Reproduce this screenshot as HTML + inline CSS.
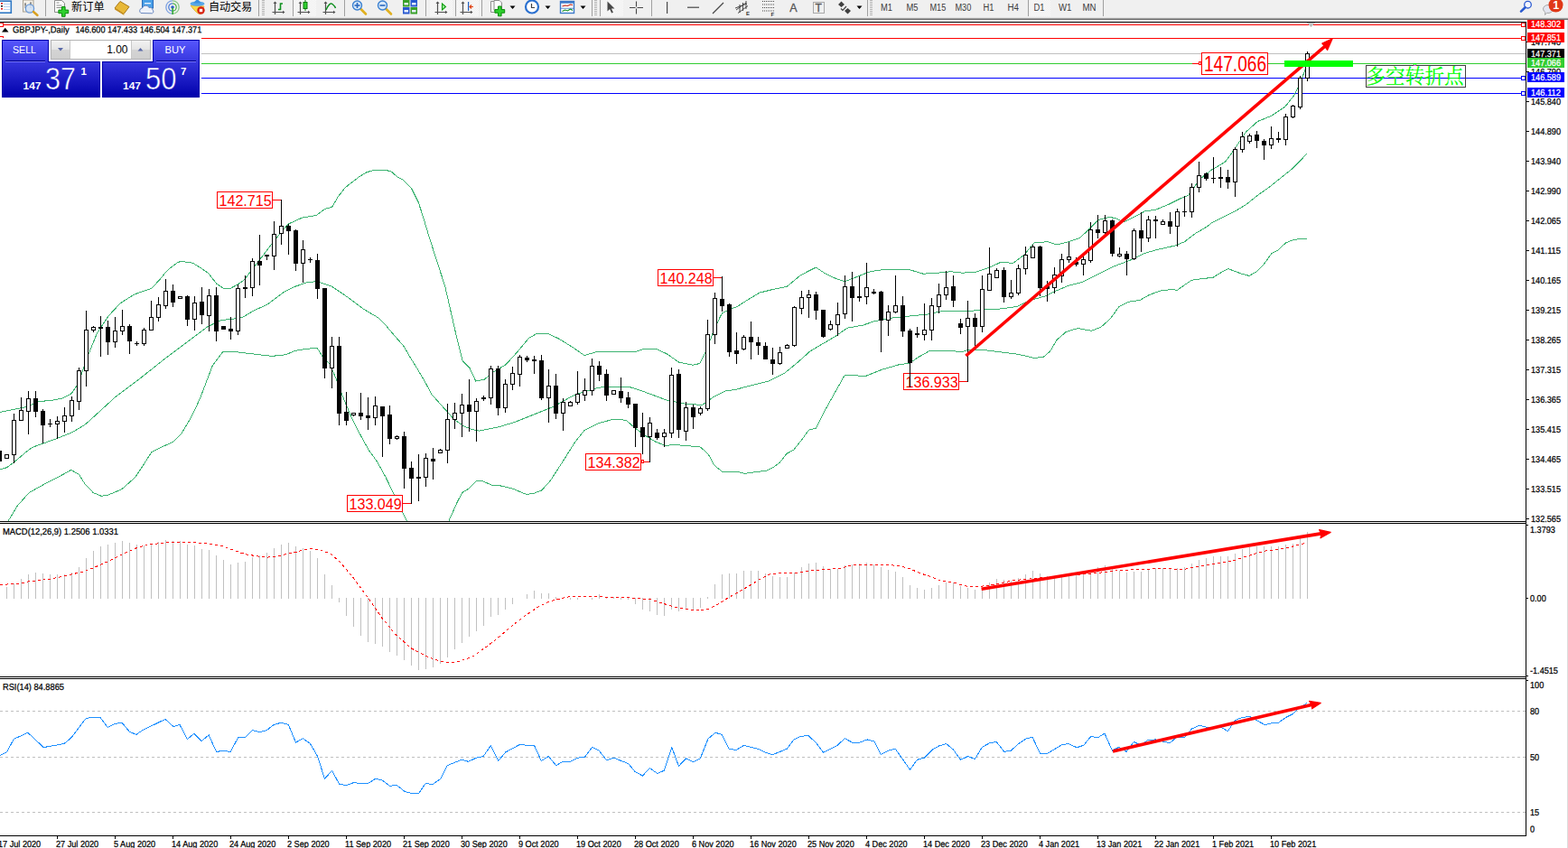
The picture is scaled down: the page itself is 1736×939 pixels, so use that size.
<!DOCTYPE html>
<html><head><meta charset="utf-8"><title>GBPJPY Daily</title><style>html,body{margin:0;padding:0;background:#fff;overflow:hidden}svg{display:block}</style></head><body>
<svg width="1736" height="939" viewBox="0 0 1736 939" font-family="Liberation Sans, sans-serif" shape-rendering="crispEdges">
<defs>
<linearGradient id="gs" gradientUnits="userSpaceOnUse" x1="0" y1="45" x2="0" y2="108"><stop offset="0" stop-color="#5656fc"/><stop offset="1" stop-color="#0000aa"/></linearGradient>
<linearGradient id="gbtn" x1="0" y1="0" x2="0" y2="1"><stop offset="0" stop-color="#f2f2f2"/><stop offset="0.5" stop-color="#e4e4e4"/><stop offset="0.5" stop-color="#d4d4d4"/><stop offset="1" stop-color="#cfcfcf"/></linearGradient>
<clipPath id="cp"><rect x="0" y="25" width="1689" height="552"/></clipPath>
<clipPath id="cm"><rect x="0" y="580" width="1689" height="169"/></clipPath>
<clipPath id="cr"><rect x="0" y="752" width="1689" height="173"/></clipPath>
<pattern id="hatch" width="2" height="2" patternUnits="userSpaceOnUse"><rect width="2" height="2" fill="#fbfbfb"/><rect width="1" height="1" fill="#eeeeee"/><rect x="1" y="1" width="1" height="1" fill="#eeeeee"/></pattern>
</defs>
<rect x="0" y="0" width="1736" height="939" fill="#fff" />
<rect x="0" y="0" width="1736" height="20" fill="#f0f0f0" />
<g shape-rendering="auto">
<rect x="-3" y="1.2" width="15.3" height="13" fill="#fff" stroke="#2f78c4" stroke-width="1.6"/>
<rect x="1" y="3" width="2" height="1.6" fill="#e02020"/><rect x="1" y="6" width="2" height="1.6" fill="#222"/><rect x="1" y="9" width="2" height="1.6" fill="#e02020"/>
<rect x="4" y="4" width="7" height="0.8" fill="#a8c8f0"/>
<rect x="4" y="7" width="7" height="0.8" fill="#a8c8f0"/>
<rect x="4" y="10" width="7" height="0.8" fill="#a8c8f0"/>
<rect x="25.5" y="0" width="11.5" height="13" fill="#f4f0e8" stroke="#a8a090" stroke-width="1"/>
<path d="M28,3 v6 M34,2 v7 M27,5 h2 M33,4 h2" stroke="#707070" stroke-width="1" fill="none"/>
<circle cx="33" cy="9.5" r="4.6" fill="#cfe0f4" fill-opacity="0.85" stroke="#6a9ad8" stroke-width="1.3"/>
<line x1="37" y1="13" x2="41.5" y2="17" stroke="#d8a020" stroke-width="2.4" stroke-linecap="round"/>
<rect x="50" y="0" width="1" height="18" fill="#a0a0a0" shape-rendering="crispEdges"/>
<path d="M60.5,0.5 h8 l3,3 v10 h-11 z" fill="#fdfdfd" stroke="#8c8c8c" stroke-width="1"/>
<path d="M62.5,3 h3 M62.5,6 h6 M62.5,8.5 h6" stroke="#8c8c8c" stroke-width="1"/>
<path d="M68.5,7.5 h3.6 v3.6 h3.6 v3.6 h-3.6 v3.6 h-3.6 v-3.6 h-3.6 v-3.6 h3.6 z" fill="#2fd02f" stroke="#0a8a0a" stroke-width="1"/>
<text x="79" y="11.5" font-size="12.2" fill="#000" textLength="36.6" lengthAdjust="spacing" font-family="'Liberation Sans', 'Noto Sans CJK SC', sans-serif">新订单</text>
<path d="M127,9 L133,1.5 L143,7.5 L137,15.5 Z" fill="#e8b838" stroke="#a87818" stroke-width="1"/>
<path d="M127,9 L137,15.5 L137.5,17 L127,10.5 Z" fill="#c89020"/>
<rect x="157.5" y="-1" width="12" height="10" fill="#4aa0e8" stroke="#2a6ab8" stroke-width="1"/>
<rect x="160" y="3" width="7" height="1.4" fill="#e8f2ff"/>
<path d="M156,14.5 a3,3 0 0 1 1.5,-5.5 a4,4 0 0 1 7.5,-0.5 a3,3 0 0 1 4,2.5 a2.2,2.2 0 0 1 -0.5,3.8 z" fill="#eef2fa" stroke="#6a88c0" stroke-width="1"/>
<path d="M191,0.8 a7.2,7.2 0 0 0 0,14.4" fill="none" stroke="#7ea2e2" stroke-width="1.3"/>
<path d="M191,0.8 a7.2,7.2 0 0 1 0,14.4" fill="none" stroke="#86c886" stroke-width="1.3"/>
<path d="M191,3.8 a4.2,4.2 0 0 0 0,8.4" fill="none" stroke="#4c7cd8" stroke-width="1.3"/>
<path d="M191,3.8 a4.2,4.2 0 0 1 0,8.4" fill="none" stroke="#52b452" stroke-width="1.3"/>
<circle cx="191" cy="8" r="1.8" fill="#2858d0"/><rect x="190.4" y="8.5" width="1.5" height="7.5" fill="#2ea82e"/>
<path d="M211,6 Q218,16 222,15.5 L226,7 Z" fill="#f8d848" stroke="#d8a828" stroke-width="0.8"/>
<ellipse cx="218.5" cy="4.2" rx="8" ry="2.6" fill="#58a8e8"/><path d="M214.5,3.5 Q218.5,-4 222.5,3.5 Z" fill="#3a90e0"/>
<circle cx="222.5" cy="11.5" r="4.2" fill="#d82010"/><rect x="220.8" y="9.8" width="3.4" height="3.4" fill="#fff"/>
<text x="231" y="11.5" font-size="12.2" fill="#000" textLength="48.2" lengthAdjust="spacing" font-family="'Liberation Sans', 'Noto Sans CJK SC', sans-serif">自动交易</text>
<rect x="286" y="0" width="1" height="18" fill="#a0a0a0" shape-rendering="crispEdges"/>
<rect x="290" y="0" width="3" height="1" fill="#b4b4b4" shape-rendering="crispEdges"/>
<rect x="290" y="2" width="3" height="1" fill="#b4b4b4" shape-rendering="crispEdges"/>
<rect x="290" y="4" width="3" height="1" fill="#b4b4b4" shape-rendering="crispEdges"/>
<rect x="290" y="6" width="3" height="1" fill="#b4b4b4" shape-rendering="crispEdges"/>
<rect x="290" y="8" width="3" height="1" fill="#b4b4b4" shape-rendering="crispEdges"/>
<rect x="290" y="10" width="3" height="1" fill="#b4b4b4" shape-rendering="crispEdges"/>
<rect x="290" y="12" width="3" height="1" fill="#b4b4b4" shape-rendering="crispEdges"/>
<rect x="290" y="14" width="3" height="1" fill="#b4b4b4" shape-rendering="crispEdges"/>
<rect x="290" y="16" width="3" height="1" fill="#b4b4b4" shape-rendering="crispEdges"/>
<path d="M304.5,2 v14 M301.5,13.5 h13" stroke="#505050" stroke-width="1.2" fill="none"/>
<path d="M302.5,4 l2,-2.5 l2,2.5 z M313,11.8 l2.5,1.7 l-2.5,1.7 z" fill="#505050"/>
<path d="M308,10.5 h2.5 v-6.5 h2.5" stroke="#109020" stroke-width="1.6" fill="none"/>
<rect x="324" y="0" width="1" height="18" fill="#a0a0a0" shape-rendering="crispEdges"/>
<rect x="325" y="0" width="25" height="18" fill="url(#hatch)" shape-rendering="crispEdges"/>
<path d="M332.5,2 v14 M329.5,13.5 h13" stroke="#505050" stroke-width="1.2" fill="none"/>
<path d="M330.5,4 l2,-2.5 l2,2.5 z M341,11.8 l2.5,1.7 l-2.5,1.7 z" fill="#505050"/>
<rect x="337.5" y="0" width="1" height="12" fill="#0a7a0a"/><rect x="336" y="2.5" width="4" height="7" fill="#30d030" stroke="#0a7a0a" stroke-width="1"/>
<path d="M360.5,2 v14 M357.5,13.5 h13" stroke="#505050" stroke-width="1.2" fill="none"/>
<path d="M358.5,4 l2,-2.5 l2,2.5 z M369,11.8 l2.5,1.7 l-2.5,1.7 z" fill="#505050"/>
<path d="M361,11 Q365,2 368,4.5 T371.5,9" stroke="#109020" stroke-width="1.4" fill="none"/>
<rect x="381" y="0" width="1" height="18" fill="#a0a0a0" shape-rendering="crispEdges"/>
<line x1="399.5" y1="10" x2="405.0" y2="15.5" stroke="#e0b020" stroke-width="2.6" stroke-linecap="round"/>
<circle cx="395.5" cy="6" r="5" fill="#d8e8f8" stroke="#3a80d0" stroke-width="1.4"/>
<path d="M392.5,6 h6" stroke="#2a68c0" stroke-width="1.6"/>
<path d="M395.5,3 v6" stroke="#2a68c0" stroke-width="1.6"/>
<line x1="427.5" y1="10" x2="433.0" y2="15.5" stroke="#e0b020" stroke-width="2.6" stroke-linecap="round"/>
<circle cx="423.5" cy="6" r="5" fill="#d8e8f8" stroke="#3a80d0" stroke-width="1.4"/>
<path d="M420.5,6 h6" stroke="#2a68c0" stroke-width="1.6"/>
<rect x="446" y="0" width="7.5" height="7.5" fill="#38a028"/><rect x="447.5" y="3" width="4.5" height="2.5" fill="#e8f0ff"/>
<rect x="454.5" y="0" width="7.5" height="7.5" fill="#2858d0"/><rect x="456.0" y="3" width="4.5" height="2.5" fill="#e8f0ff"/>
<rect x="446" y="8" width="7.5" height="7.5" fill="#2858d0"/><rect x="447.5" y="11" width="4.5" height="2.5" fill="#e8f0ff"/>
<rect x="454.5" y="8" width="7.5" height="7.5" fill="#38a028"/><rect x="456.0" y="11" width="4.5" height="2.5" fill="#e8f0ff"/>
<rect x="471" y="0" width="1" height="18" fill="#a0a0a0" shape-rendering="crispEdges"/>
<rect x="476" y="0" width="25" height="18" fill="url(#hatch)" shape-rendering="crispEdges"/>
<path d="M484.5,2 v14 M481.5,13.5 h13" stroke="#505050" stroke-width="1.2" fill="none"/>
<path d="M482.5,4 l2,-2.5 l2,2.5 z M493,11.8 l2.5,1.7 l-2.5,1.7 z" fill="#505050"/>
<path d="M489.5,4 l4,3.5 l-4,3.5 z" fill="#a0e8a0" stroke="#10a010" stroke-width="1.1"/>
<rect x="504" y="0" width="1" height="18" fill="#a0a0a0" shape-rendering="crispEdges"/>
<rect x="506" y="0" width="24" height="18" fill="url(#hatch)" shape-rendering="crispEdges"/>
<path d="M512.5,2 v14 M509.5,13.5 h13" stroke="#505050" stroke-width="1.2" fill="none"/>
<path d="M510.5,4 l2,-2.5 l2,2.5 z M521,11.8 l2.5,1.7 l-2.5,1.7 z" fill="#505050"/>
<rect x="518" y="2" width="1.2" height="10" fill="#2060c0"/><path d="M524,7.5 h-4 M522,5.5 l-2,2 l2,2" stroke="#e04010" stroke-width="1.2" fill="none"/>
<rect x="533" y="0" width="1" height="18" fill="#a0a0a0" shape-rendering="crispEdges"/>
<path d="M543.5,1.5 h6 l2.5,2.5 v9.5 h-8.5 z" fill="#fdfdfd" stroke="#8c8c8c" stroke-width="1"/><path d="M546,2.5 h6 l2.5,2.5 v8.5 h-8.5 z" fill="#fdfdfd" stroke="#8c8c8c" stroke-width="1" transform="translate(1,-2)"/>
<path d="M551.5,7 h3.6 v3.6 h3.6 v3.6 h-3.6 v3.6 h-3.6 v-3.6 h-3.6 v-3.6 h3.6 z" fill="#2fd02f" stroke="#0a8a0a" stroke-width="1"/>
<path d="M564.5,6.5 h6 l-3,3.5 z" fill="#000"/>
<circle cx="589" cy="7.5" r="7" fill="#fff" stroke="#2a70d0" stroke-width="2.2"/><path d="M588.5,4 v4.5 h3.5" stroke="#404040" stroke-width="1.2" fill="none"/>
<path d="M603.5,6.5 h6 l-3,3.5 z" fill="#000"/>
<rect x="620.5" y="1.5" width="15" height="13" fill="#fff" stroke="#3a78c8" stroke-width="1.4"/><rect x="620.5" y="1.5" width="15" height="2.2" fill="#3a78c8"/>
<path d="M622.5,7 l3,-1 l3,0.5 l3,-1.5 l2.5,0.5" stroke="#c02010" stroke-width="1.1" fill="none"/><path d="M622.5,12.5 l3,-1.5 l3,1 l3,-2 l2.5,1.5" stroke="#109020" stroke-width="1.1" fill="none"/>
<rect x="621" y="8.8" width="14" height="0.8" fill="#3a78c8"/>
<path d="M642.5,6.5 h6 l-3,3.5 z" fill="#000"/>
<rect x="655" y="0" width="1" height="18" fill="#a0a0a0" shape-rendering="crispEdges"/>
<rect x="658" y="0" width="3" height="1" fill="#b4b4b4" shape-rendering="crispEdges"/>
<rect x="658" y="2" width="3" height="1" fill="#b4b4b4" shape-rendering="crispEdges"/>
<rect x="658" y="4" width="3" height="1" fill="#b4b4b4" shape-rendering="crispEdges"/>
<rect x="658" y="6" width="3" height="1" fill="#b4b4b4" shape-rendering="crispEdges"/>
<rect x="658" y="8" width="3" height="1" fill="#b4b4b4" shape-rendering="crispEdges"/>
<rect x="658" y="10" width="3" height="1" fill="#b4b4b4" shape-rendering="crispEdges"/>
<rect x="658" y="12" width="3" height="1" fill="#b4b4b4" shape-rendering="crispEdges"/>
<rect x="658" y="14" width="3" height="1" fill="#b4b4b4" shape-rendering="crispEdges"/>
<rect x="658" y="16" width="3" height="1" fill="#b4b4b4" shape-rendering="crispEdges"/>
<rect x="664" y="0" width="1" height="18" fill="#a0a0a0" shape-rendering="crispEdges"/>
<rect x="666" y="0" width="24" height="18" fill="url(#hatch)" shape-rendering="crispEdges"/>
<path d="M672.5,1.5 v11 l2.6,-2.4 l2,4.4 l1.8,-0.8 l-2,-4.3 h3.6 z" fill="#484848"/>
<path d="M704.5,1.5 v14 M697,8.5 h15" stroke="#484848" stroke-width="1.1"/><rect x="703.5" y="7.5" width="2" height="2" fill="#f0f0f0"/>
<rect x="721" y="0" width="1" height="18" fill="#a0a0a0" shape-rendering="crispEdges"/>
<rect x="738" y="2" width="1.2" height="13" fill="#484848"/>
<rect x="761" y="7.6" width="13" height="1.2" fill="#484848"/>
<line x1="789" y1="15" x2="801" y2="3" stroke="#484848" stroke-width="1.2"/>
<path d="M815,11 l11,-8 M817,14.5 l11,-8 M819,5 v9 M822.5,3 v9 M826,1 v9 M814,9 l13,-5" stroke="#484848" stroke-width="1" fill="none"/>
<text x="826" y="17" font-size="6" font-weight="bold" fill="#303030">E</text>
<line x1="844" y1="1.5" x2="857" y2="1.5" stroke="#484848" stroke-width="1" stroke-dasharray="1 1"/>
<line x1="844" y1="5" x2="857" y2="5" stroke="#484848" stroke-width="1" stroke-dasharray="1 1"/>
<line x1="844" y1="8.5" x2="857" y2="8.5" stroke="#484848" stroke-width="1" stroke-dasharray="1 1"/>
<line x1="844" y1="12" x2="857" y2="12" stroke="#484848" stroke-width="1" stroke-dasharray="1 1"/>
<text x="853.5" y="17.5" font-size="6" font-weight="bold" fill="#303030">F</text>
<text x="874.3" y="13" font-size="12.5" fill="#555" stroke="#555" stroke-width="0.3">A</text>
<rect x="900.5" y="2.5" width="12" height="12" fill="none" stroke="#606060" stroke-width="1" stroke-dasharray="1 1"/><text x="902.5" y="13" font-size="12" fill="#555" stroke="#555" stroke-width="0.3">T</text>
<path d="M928,5 l3.5,-3.5 l3.5,3.5 l-3.5,3 z M935,12 l3.5,-3 l3.5,3 l-3.5,3.5 z" fill="#404040"/><path d="M931,9.5 l2,2 l4,-4.5" stroke="#404040" stroke-width="1.2" fill="none"/>
<path d="M948.5,6.5 h6 l-3,3.5 z" fill="#000"/>
<rect x="960" y="0" width="1" height="18" fill="#a0a0a0" shape-rendering="crispEdges"/>
<rect x="963" y="0" width="3" height="1" fill="#b4b4b4" shape-rendering="crispEdges"/>
<rect x="963" y="2" width="3" height="1" fill="#b4b4b4" shape-rendering="crispEdges"/>
<rect x="963" y="4" width="3" height="1" fill="#b4b4b4" shape-rendering="crispEdges"/>
<rect x="963" y="6" width="3" height="1" fill="#b4b4b4" shape-rendering="crispEdges"/>
<rect x="963" y="8" width="3" height="1" fill="#b4b4b4" shape-rendering="crispEdges"/>
<rect x="963" y="10" width="3" height="1" fill="#b4b4b4" shape-rendering="crispEdges"/>
<rect x="963" y="12" width="3" height="1" fill="#b4b4b4" shape-rendering="crispEdges"/>
<rect x="963" y="14" width="3" height="1" fill="#b4b4b4" shape-rendering="crispEdges"/>
<rect x="963" y="16" width="3" height="1" fill="#b4b4b4" shape-rendering="crispEdges"/>
<rect x="1140" y="0" width="23" height="18" fill="url(#hatch)" shape-rendering="crispEdges"/>
<text x="975" y="12" font-size="10" fill="#3c3c3c" textLength="13" lengthAdjust="spacingAndGlyphs">M1</text>
<text x="1003.5" y="12" font-size="10" fill="#3c3c3c" textLength="13" lengthAdjust="spacingAndGlyphs">M5</text>
<text x="1029.5" y="12" font-size="10" fill="#3c3c3c" textLength="17.8" lengthAdjust="spacingAndGlyphs">M15</text>
<text x="1057.5" y="12" font-size="10" fill="#3c3c3c" textLength="17.8" lengthAdjust="spacingAndGlyphs">M30</text>
<text x="1088.5" y="12" font-size="10" fill="#3c3c3c" textLength="12" lengthAdjust="spacingAndGlyphs">H1</text>
<text x="1115.5" y="12" font-size="10" fill="#3c3c3c" textLength="12.5" lengthAdjust="spacingAndGlyphs">H4</text>
<text x="1144.5" y="12" font-size="10" fill="#3c3c3c" textLength="12" lengthAdjust="spacingAndGlyphs">D1</text>
<text x="1172" y="12" font-size="10" fill="#3c3c3c" textLength="14.5" lengthAdjust="spacingAndGlyphs">W1</text>
<text x="1198.5" y="12" font-size="10" fill="#3c3c3c" textLength="15" lengthAdjust="spacingAndGlyphs">MN</text>
<rect x="1138" y="0" width="1" height="18" fill="#a0a0a0" shape-rendering="crispEdges"/>
<rect x="1221" y="0" width="1" height="18" fill="#a0a0a0" shape-rendering="crispEdges"/>
<circle cx="1691.5" cy="5.2" r="3.8" fill="#f4f6ff" stroke="#2a5ad0" stroke-width="1.3"/><line x1="1688.6" y1="8.2" x2="1684" y2="12.6" stroke="#2a5ad0" stroke-width="2.6" stroke-linecap="round"/>
<path d="M1708.5,10 a5.5,4.5 0 0 1 11,0 a5.5,4.5 0 0 1 -7,4.3 l-2,2.2 l0.3,-3 a5,4.5 0 0 1 -2.3,-3.5 z" fill="#e4e6f0" stroke="#a8a8a8" stroke-width="1"/>
<circle cx="1722.5" cy="5.5" r="8" fill="#e03818"/><text x="1719.3" y="10.2" font-size="12.5" font-weight="bold" fill="#fff">1</text>
</g>
<rect x="0" y="19" width="1736" height="1" fill="#e4e4e4" />
<rect x="0" y="20" width="1736" height="1" fill="#a2a2a2" />
<rect x="0" y="21" width="1736" height="1" fill="#6c6c6c" />
<rect x="0" y="24" width="1690" height="1" fill="#000" />
<rect x="1689" y="24" width="1" height="902" fill="#000" />
<rect x="0" y="577" width="1690" height="1" fill="#000" />
<rect x="0" y="579" width="1690" height="1" fill="#000" />
<rect x="0" y="749" width="1690" height="1" fill="#000" />
<rect x="0" y="751" width="1690" height="1" fill="#000" />
<rect x="0" y="925" width="1690" height="1" fill="#000" />
<rect x="1735" y="22" width="1" height="917" fill="#dcdcdc" />
<g clip-path="url(#cp)">
<rect x="0" y="27" width="1689" height="1" fill="#ff0000" />
<rect x="0" y="42" width="1689" height="1" fill="#ff0000" />
<rect x="0" y="59" width="1689" height="1" fill="#c0c0c0" />
<rect x="0" y="70" width="1689" height="1" fill="#32cd32" />
<rect x="0" y="86" width="1689" height="1" fill="#0000ff" />
<rect x="0" y="103" width="1689" height="1" fill="#0000ff" />
<rect x="-1" y="25" width="5" height="5" fill="#ff0000" />
<rect x="0" y="26" width="3" height="3" fill="#fff" />
<rect x="1684" y="25" width="5" height="5" fill="#ff0000" />
<rect x="1685" y="26" width="3" height="3" fill="#fff" />
<rect x="-1" y="40" width="5" height="5" fill="#ff0000" />
<rect x="0" y="41" width="3" height="3" fill="#fff" />
<rect x="1684" y="40" width="5" height="5" fill="#ff0000" />
<rect x="1685" y="41" width="3" height="3" fill="#fff" />
<rect x="-1" y="84" width="5" height="5" fill="#0000ff" />
<rect x="0" y="85" width="3" height="3" fill="#fff" />
<rect x="1684" y="84" width="5" height="5" fill="#0000ff" />
<rect x="1685" y="85" width="3" height="3" fill="#fff" />
<rect x="-1" y="101" width="5" height="5" fill="#0000ff" />
<rect x="0" y="102" width="3" height="3" fill="#fff" />
<rect x="1684" y="101" width="5" height="5" fill="#0000ff" />
<rect x="1685" y="102" width="3" height="3" fill="#fff" />
<rect x="1447" y="25" width="9" height="1" fill="#c0c0c0" />
<rect x="1448" y="26" width="7" height="1" fill="#c0c0c0" />
<rect x="1449" y="27" width="5" height="1" fill="#c0c0c0" />
<rect x="1450" y="28" width="3" height="1" fill="#c0c0c0" />
<rect x="1451" y="29" width="1" height="1" fill="#c0c0c0" />
<polyline points="0.0,456.4 26.6,451.1 35.1,447.9 42.6,444.7 58.6,443.1 69.2,441.0 79.2,435.7 87.0,424.2 95.9,397.4 107.4,369.2 120.0,350.0 133.0,336.0 145.7,327.8 150.0,325.5 159.0,322.4 167.3,319.6 177.0,309.6 181.8,303.4 188.1,297.1 195.7,291.3 199.8,289.4 203.6,289.4 205.4,290.4 209.5,290.4 213.7,291.4 222.0,296.5 231.0,302.7 235.1,308.2 240.0,314.4 247.6,319.3 255.2,319.3 263.5,314.8 270.0,310.3 275.6,303.2 288.3,286.6 301.0,270.0 311.3,257.2 319.0,248.2 334.4,241.1 350.0,238.6 359.8,231.2 367.6,229.3 374.5,217.5 382.3,207.7 390.2,201.4 398.0,195.5 405.9,190.8 413.7,188.4 427.4,188.4 433.3,190.1 440.1,196.0 446.5,199.4 455.3,208.2 463.2,223.9 468.6,240.5 474.9,261.6 480.0,277.6 492.8,317.3 505.6,373.5 510.0,391.4 512.4,400.0 520.1,407.7 526.8,422.1 536.4,420.1 544.1,413.4 551.8,408.6 560.0,403.8 572.8,389.7 585.6,374.4 593.2,370.0 606.0,369.2 618.8,375.1 634.1,384.6 646.9,393.5 662.2,389.2 682.7,389.7 703.1,389.7 713.4,386.1 726.2,386.1 738.9,392.2 751.7,401.2 767.1,404.3 774.7,402.5 782.4,387.1 790.0,366.7 797.7,350.1 799.8,346.8 804.6,344.4 810.4,341.5 815.2,340.1 822.8,335.2 840.7,324.2 856.0,320.4 871.3,317.3 886.7,304.5 903.3,296.1 912.2,302.0 925.0,308.3 935.3,311.7 950.6,305.8 963.4,300.7 976.2,298.9 988.9,298.1 1006.8,298.6 1022.2,303.2 1040.1,302.0 1052.8,300.7 1065.3,302.2 1080.7,301.0 1096.0,295.9 1108.8,290.0 1121.6,291.5 1134.4,281.8 1144.6,269.0 1159.9,267.7 1170.1,271.1 1182.9,267.7 1195.7,263.4 1205.9,253.7 1216.2,243.5 1228.9,240.4 1236.6,242.2 1244.3,246.0 1254.5,240.9 1267.3,234.0 1280.1,232.0 1292.8,226.8 1305.6,220.4 1315.6,216.4 1328.3,198.5 1341.1,188.3 1356.5,179.3 1366.7,165.3 1379.5,146.1 1392.2,134.6 1407.6,128.2 1422.9,118.0 1433.1,105.2 1440.8,88.6 1446.4,73.2" fill="none" stroke="#3cb371" stroke-width="1"/>
<polyline points="0.0,520.1 7.5,517.7 14.9,512.3 31.9,498.0 37.3,494.8 47.9,491.0 63.9,485.2 79.9,478.8 94.8,469.7 112.5,453.6 127.8,439.5 153.4,420.4 179.0,400.0 204.5,380.7 230.0,361.6 245.4,354.4 255.0,353.5 267.9,351.8 280.7,344.1 296.0,337.2 313.9,323.6 326.7,317.3 339.5,312.9 351.0,311.6 367.6,317.3 385.5,329.5 403.4,342.8 418.7,351.8 426.9,360.0 437.1,372.1 446.7,383.0 455.0,397.1 461.4,407.3 470.4,422.6 478.0,436.7 487.0,446.9 499.7,461.0 503.8,465.2 513.4,471.9 523.0,475.7 530.7,477.1 542.2,474.8 551.8,472.9 570.9,467.1 590.1,459.4 611.1,451.0 636.7,437.0 662.2,429.3 675.0,428.0 695.5,428.0 713.4,433.9 738.9,443.4 759.4,447.2 777.3,448.5 790.0,439.5 802.8,433.1 815.0,431.2 830.4,427.2 850.9,422.1 868.8,413.1 884.1,400.4 896.9,388.9 912.2,379.9 925.0,372.3 937.8,363.3 955.7,360.0 968.5,355.6 988.9,351.8 1009.4,349.8 1027.3,348.0 1045.2,344.1 1067.9,344.9 1088.3,343.1 1108.8,341.9 1126.7,339.3 1139.5,332.9 1157.4,327.8 1167.6,322.7 1182.9,316.3 1198.3,312.5 1216.2,303.5 1234.1,294.6 1254.5,286.9 1267.3,280.5 1280.1,276.7 1290.0,274.6 1302.7,271.5 1311.6,267.6 1323.3,258.6 1337.0,250.5 1341.1,247.1 1356.5,239.4 1366.7,234.3 1379.5,226.6 1392.2,216.4 1405.0,207.4 1417.8,197.2 1430.6,187.0 1440.8,176.8 1446.4,170.4" fill="none" stroke="#3cb371" stroke-width="1"/>
<polyline points="8.0,579.0 9.0,577.0 19.5,559.8 32.2,545.6 49.4,535.9 64.4,528.4 78.6,520.4 87.6,525.4 94.4,536.6 103.3,545.6 112.3,549.3 119.8,548.1 134.8,541.8 149.8,528.4 158.8,514.9 167.7,500.7 179.7,494.7 191.7,489.4 200.7,480.4 209.7,465.5 217.2,450.5 221.7,440.7 235.2,405.0 246.7,389.7 255.0,389.0 275.6,391.4 301.0,394.4 316.5,392.7 326.7,388.3 339.5,386.3 351.0,385.2 357.4,395.2 365.0,402.9 372.7,420.8 379.2,438.4 388.8,461.4 398.4,480.5 407.9,497.8 417.5,511.2 427.1,528.5 436.7,548.6 450.1,576.4 453.0,583.0 495.0,583.0 497.1,576.4 505.7,557.2 511.5,545.7 519.2,540.9 527.8,532.3 534.5,532.7 544.1,537.1 555.6,538.1 567.1,540.9 582.4,547.3 590.1,546.7 599.7,542.9 609.3,532.3 623.9,509.8 636.7,489.4 646.9,476.6 662.2,468.9 677.6,464.6 692.9,465.1 703.1,474.0 713.4,481.7 726.2,489.4 736.4,493.2 749.2,492.7 764.5,494.0 774.7,494.5 780.0,499.1 784.4,503.3 790.8,515.1 799.6,522.4 817.2,522.4 824.1,524.4 834.9,522.9 848.6,521.1 855.4,518.0 863.3,512.1 871.1,502.3 879.0,497.9 887.8,486.7 895.6,476.1 903.5,474.1 912.2,456.6 925.0,433.6 935.3,415.2 958.3,416.5 976.2,409.3 996.6,403.4 1006.8,402.4 1017.1,395.3 1029.8,388.1 1055.4,388.4 1063.1,390.1 1070.4,387.9 1088.3,387.4 1106.2,389.7 1126.7,392.2 1144.6,396.3 1154.8,395.6 1162.5,389.2 1170.1,376.4 1180.4,367.4 1193.1,363.6 1208.5,366.2 1218.7,362.3 1228.9,353.4 1239.2,339.3 1249.4,334.2 1262.2,332.4 1272.4,326.5 1285.2,321.9 1298.8,320.3 1303.2,321.5 1310.6,316.1 1319.4,310.3 1329.2,308.8 1342.9,307.3 1351.7,301.9 1359.6,297.5 1367.4,300.5 1375.2,303.4 1383.1,305.4 1390.9,301.0 1399.7,292.1 1407.6,280.9 1414.4,277.4 1423.3,269.1 1430.1,266.2 1438.0,264.5 1446.8,264.4" fill="none" stroke="#3cb371" stroke-width="1"/>
<rect x="-1" y="499" width="1" height="12" fill="#000" />
<rect x="-3" y="499" width="5" height="12" fill="#000" />
<rect x="7" y="503" width="1" height="5" fill="#000" />
<rect x="5" y="503" width="5" height="5" fill="#000" />
<rect x="6" y="504" width="3" height="3" fill="#fff" />
<rect x="15" y="458" width="1" height="55" fill="#000" />
<rect x="13" y="465" width="5" height="39" fill="#000" />
<rect x="14" y="466" width="3" height="37" fill="#fff" />
<rect x="23" y="440" width="1" height="26" fill="#000" />
<rect x="21" y="454" width="5" height="12" fill="#000" />
<rect x="22" y="455" width="3" height="10" fill="#fff" />
<rect x="31" y="433" width="1" height="48" fill="#000" />
<rect x="29" y="441" width="5" height="15" fill="#000" />
<rect x="30" y="442" width="3" height="13" fill="#fff" />
<rect x="39" y="433" width="1" height="29" fill="#000" />
<rect x="37" y="441" width="5" height="15" fill="#000" />
<rect x="47" y="453" width="1" height="38" fill="#000" />
<rect x="45" y="455" width="5" height="16" fill="#000" />
<rect x="55" y="464" width="1" height="9" fill="#000" />
<rect x="53" y="469" width="5" height="1" fill="#000" />
<rect x="63" y="461" width="1" height="25" fill="#000" />
<rect x="61" y="466" width="5" height="4" fill="#000" />
<rect x="62" y="467" width="3" height="2" fill="#fff" />
<rect x="71" y="451" width="1" height="28" fill="#000" />
<rect x="69" y="460" width="5" height="7" fill="#000" />
<rect x="70" y="461" width="3" height="5" fill="#fff" />
<rect x="79" y="439" width="1" height="28" fill="#000" />
<rect x="77" y="443" width="5" height="18" fill="#000" />
<rect x="78" y="444" width="3" height="16" fill="#fff" />
<rect x="87" y="407" width="1" height="47" fill="#000" />
<rect x="85" y="410" width="5" height="35" fill="#000" />
<rect x="86" y="411" width="3" height="33" fill="#fff" />
<rect x="95" y="344" width="1" height="84" fill="#000" />
<rect x="93" y="365" width="5" height="46" fill="#000" />
<rect x="94" y="366" width="3" height="44" fill="#fff" />
<rect x="103" y="361" width="1" height="7" fill="#000" />
<rect x="101" y="362" width="5" height="4" fill="#000" />
<rect x="102" y="363" width="3" height="2" fill="#fff" />
<rect x="111" y="350" width="1" height="45" fill="#000" />
<rect x="109" y="362" width="5" height="2" fill="#000" />
<rect x="119" y="355" width="1" height="38" fill="#000" />
<rect x="117" y="362" width="5" height="17" fill="#000" />
<rect x="127" y="351" width="1" height="34" fill="#000" />
<rect x="125" y="366" width="5" height="13" fill="#000" />
<rect x="126" y="367" width="3" height="11" fill="#fff" />
<rect x="135" y="343" width="1" height="28" fill="#000" />
<rect x="133" y="361" width="5" height="6" fill="#000" />
<rect x="134" y="362" width="3" height="4" fill="#fff" />
<rect x="143" y="359" width="1" height="33" fill="#000" />
<rect x="141" y="361" width="5" height="17" fill="#000" />
<rect x="151" y="378" width="1" height="5" fill="#000" />
<rect x="149" y="380" width="5" height="1" fill="#000" />
<rect x="159" y="363" width="1" height="20" fill="#000" />
<rect x="157" y="365" width="5" height="16" fill="#000" />
<rect x="158" y="366" width="3" height="14" fill="#fff" />
<rect x="167" y="333" width="1" height="33" fill="#000" />
<rect x="165" y="351" width="5" height="15" fill="#000" />
<rect x="166" y="352" width="3" height="13" fill="#fff" />
<rect x="175" y="329" width="1" height="27" fill="#000" />
<rect x="173" y="337" width="5" height="15" fill="#000" />
<rect x="174" y="338" width="3" height="13" fill="#fff" />
<rect x="183" y="309" width="1" height="33" fill="#000" />
<rect x="181" y="322" width="5" height="17" fill="#000" />
<rect x="182" y="323" width="3" height="15" fill="#fff" />
<rect x="191" y="315" width="1" height="25" fill="#000" />
<rect x="189" y="322" width="5" height="13" fill="#000" />
<rect x="199" y="328" width="1" height="3" fill="#000" />
<rect x="197" y="328" width="5" height="3" fill="#000" />
<rect x="198" y="329" width="3" height="1" fill="#fff" />
<rect x="207" y="327" width="1" height="34" fill="#000" />
<rect x="205" y="328" width="5" height="26" fill="#000" />
<rect x="215" y="328" width="1" height="38" fill="#000" />
<rect x="213" y="335" width="5" height="19" fill="#000" />
<rect x="214" y="336" width="3" height="17" fill="#fff" />
<rect x="223" y="318" width="1" height="41" fill="#000" />
<rect x="221" y="334" width="5" height="15" fill="#000" />
<rect x="231" y="320" width="1" height="47" fill="#000" />
<rect x="229" y="327" width="5" height="23" fill="#000" />
<rect x="230" y="328" width="3" height="21" fill="#fff" />
<rect x="239" y="318" width="1" height="60" fill="#000" />
<rect x="237" y="327" width="5" height="40" fill="#000" />
<rect x="247" y="361" width="1" height="4" fill="#000" />
<rect x="245" y="361" width="5" height="4" fill="#000" />
<rect x="255" y="351" width="1" height="25" fill="#000" />
<rect x="253" y="364" width="5" height="3" fill="#000" />
<rect x="263" y="315" width="1" height="56" fill="#000" />
<rect x="261" y="319" width="5" height="48" fill="#000" />
<rect x="262" y="320" width="3" height="46" fill="#fff" />
<rect x="271" y="305" width="1" height="25" fill="#000" />
<rect x="269" y="318" width="5" height="2" fill="#000" />
<rect x="279" y="286" width="1" height="42" fill="#000" />
<rect x="277" y="289" width="5" height="30" fill="#000" />
<rect x="278" y="290" width="3" height="28" fill="#fff" />
<rect x="287" y="260" width="1" height="56" fill="#000" />
<rect x="285" y="289" width="5" height="5" fill="#000" />
<rect x="295" y="282" width="1" height="6" fill="#000" />
<rect x="293" y="282" width="5" height="2" fill="#000" />
<rect x="303" y="245" width="1" height="54" fill="#000" />
<rect x="301" y="259" width="5" height="25" fill="#000" />
<rect x="302" y="260" width="3" height="23" fill="#fff" />
<rect x="311" y="221" width="1" height="50" fill="#000" />
<rect x="309" y="250" width="5" height="9" fill="#000" />
<rect x="310" y="251" width="3" height="7" fill="#fff" />
<rect x="319" y="248" width="1" height="34" fill="#000" />
<rect x="317" y="250" width="5" height="6" fill="#000" />
<rect x="327" y="254" width="1" height="46" fill="#000" />
<rect x="325" y="255" width="5" height="37" fill="#000" />
<rect x="335" y="266" width="1" height="47" fill="#000" />
<rect x="333" y="276" width="5" height="16" fill="#000" />
<rect x="334" y="277" width="3" height="14" fill="#fff" />
<rect x="343" y="285" width="1" height="6" fill="#000" />
<rect x="341" y="287" width="5" height="1" fill="#000" />
<rect x="351" y="281" width="1" height="50" fill="#000" />
<rect x="349" y="288" width="5" height="32" fill="#000" />
<rect x="359" y="319" width="1" height="100" fill="#000" />
<rect x="357" y="319" width="5" height="89" fill="#000" />
<rect x="367" y="373" width="1" height="57" fill="#000" />
<rect x="365" y="383" width="5" height="25" fill="#000" />
<rect x="366" y="384" width="3" height="23" fill="#fff" />
<rect x="375" y="373" width="1" height="98" fill="#000" />
<rect x="373" y="383" width="5" height="75" fill="#000" />
<rect x="383" y="434" width="1" height="37" fill="#000" />
<rect x="381" y="456" width="5" height="10" fill="#000" />
<rect x="391" y="457" width="1" height="4" fill="#000" />
<rect x="389" y="457" width="5" height="3" fill="#000" />
<rect x="390" y="458" width="3" height="1" fill="#fff" />
<rect x="399" y="435" width="1" height="30" fill="#000" />
<rect x="397" y="457" width="5" height="4" fill="#000" />
<rect x="407" y="440" width="1" height="36" fill="#000" />
<rect x="405" y="460" width="5" height="3" fill="#000" />
<rect x="415" y="439" width="1" height="32" fill="#000" />
<rect x="413" y="449" width="5" height="14" fill="#000" />
<rect x="414" y="450" width="3" height="12" fill="#fff" />
<rect x="423" y="450" width="1" height="56" fill="#000" />
<rect x="421" y="450" width="5" height="11" fill="#000" />
<rect x="431" y="449" width="1" height="43" fill="#000" />
<rect x="429" y="459" width="5" height="27" fill="#000" />
<rect x="439" y="482" width="1" height="5" fill="#000" />
<rect x="437" y="483" width="5" height="3" fill="#000" />
<rect x="438" y="484" width="3" height="1" fill="#fff" />
<rect x="447" y="478" width="1" height="63" fill="#000" />
<rect x="445" y="483" width="5" height="36" fill="#000" />
<rect x="455" y="511" width="1" height="47" fill="#000" />
<rect x="453" y="518" width="5" height="12" fill="#000" />
<rect x="463" y="503" width="1" height="52" fill="#000" />
<rect x="461" y="528" width="5" height="2" fill="#000" />
<rect x="471" y="502" width="1" height="37" fill="#000" />
<rect x="469" y="507" width="5" height="22" fill="#000" />
<rect x="470" y="508" width="3" height="20" fill="#fff" />
<rect x="479" y="496" width="1" height="35" fill="#000" />
<rect x="477" y="508" width="5" height="3" fill="#000" />
<rect x="487" y="497" width="1" height="5" fill="#000" />
<rect x="485" y="498" width="5" height="4" fill="#000" />
<rect x="486" y="499" width="3" height="2" fill="#fff" />
<rect x="495" y="447" width="1" height="66" fill="#000" />
<rect x="493" y="464" width="5" height="35" fill="#000" />
<rect x="494" y="465" width="3" height="33" fill="#fff" />
<rect x="503" y="446" width="1" height="29" fill="#000" />
<rect x="501" y="457" width="5" height="8" fill="#000" />
<rect x="502" y="458" width="3" height="6" fill="#fff" />
<rect x="511" y="436" width="1" height="48" fill="#000" />
<rect x="509" y="448" width="5" height="10" fill="#000" />
<rect x="510" y="449" width="3" height="8" fill="#fff" />
<rect x="519" y="420" width="1" height="58" fill="#000" />
<rect x="517" y="448" width="5" height="8" fill="#000" />
<rect x="527" y="441" width="1" height="48" fill="#000" />
<rect x="525" y="444" width="5" height="12" fill="#000" />
<rect x="526" y="445" width="3" height="10" fill="#fff" />
<rect x="535" y="438" width="1" height="6" fill="#000" />
<rect x="533" y="440" width="5" height="2" fill="#000" />
<rect x="543" y="405" width="1" height="43" fill="#000" />
<rect x="541" y="408" width="5" height="33" fill="#000" />
<rect x="542" y="409" width="3" height="31" fill="#fff" />
<rect x="551" y="405" width="1" height="55" fill="#000" />
<rect x="549" y="408" width="5" height="44" fill="#000" />
<rect x="559" y="420" width="1" height="37" fill="#000" />
<rect x="557" y="425" width="5" height="27" fill="#000" />
<rect x="558" y="426" width="3" height="25" fill="#fff" />
<rect x="567" y="406" width="1" height="26" fill="#000" />
<rect x="565" y="413" width="5" height="13" fill="#000" />
<rect x="566" y="414" width="3" height="11" fill="#fff" />
<rect x="575" y="393" width="1" height="35" fill="#000" />
<rect x="573" y="395" width="5" height="20" fill="#000" />
<rect x="574" y="396" width="3" height="18" fill="#fff" />
<rect x="583" y="394" width="1" height="7" fill="#000" />
<rect x="581" y="396" width="5" height="3" fill="#000" />
<rect x="591" y="394" width="1" height="20" fill="#000" />
<rect x="589" y="398" width="5" height="2" fill="#000" />
<rect x="599" y="393" width="1" height="50" fill="#000" />
<rect x="597" y="399" width="5" height="42" fill="#000" />
<rect x="607" y="409" width="1" height="59" fill="#000" />
<rect x="605" y="427" width="5" height="14" fill="#000" />
<rect x="606" y="428" width="3" height="12" fill="#fff" />
<rect x="615" y="414" width="1" height="50" fill="#000" />
<rect x="613" y="427" width="5" height="31" fill="#000" />
<rect x="623" y="441" width="1" height="36" fill="#000" />
<rect x="621" y="445" width="5" height="13" fill="#000" />
<rect x="622" y="446" width="3" height="11" fill="#fff" />
<rect x="631" y="444" width="1" height="6" fill="#000" />
<rect x="629" y="445" width="5" height="5" fill="#000" />
<rect x="630" y="446" width="3" height="3" fill="#fff" />
<rect x="639" y="411" width="1" height="37" fill="#000" />
<rect x="637" y="436" width="5" height="10" fill="#000" />
<rect x="638" y="437" width="3" height="8" fill="#fff" />
<rect x="647" y="419" width="1" height="25" fill="#000" />
<rect x="645" y="432" width="5" height="6" fill="#000" />
<rect x="646" y="433" width="3" height="4" fill="#fff" />
<rect x="655" y="397" width="1" height="41" fill="#000" />
<rect x="653" y="405" width="5" height="28" fill="#000" />
<rect x="654" y="406" width="3" height="26" fill="#fff" />
<rect x="663" y="400" width="1" height="22" fill="#000" />
<rect x="661" y="405" width="5" height="10" fill="#000" />
<rect x="671" y="409" width="1" height="35" fill="#000" />
<rect x="669" y="414" width="5" height="24" fill="#000" />
<rect x="679" y="432" width="1" height="5" fill="#000" />
<rect x="677" y="432" width="5" height="5" fill="#000" />
<rect x="678" y="433" width="3" height="3" fill="#fff" />
<rect x="687" y="418" width="1" height="28" fill="#000" />
<rect x="685" y="433" width="5" height="8" fill="#000" />
<rect x="695" y="434" width="1" height="18" fill="#000" />
<rect x="693" y="440" width="5" height="8" fill="#000" />
<rect x="703" y="447" width="1" height="48" fill="#000" />
<rect x="701" y="447" width="5" height="27" fill="#000" />
<rect x="711" y="457" width="1" height="46" fill="#000" />
<rect x="709" y="473" width="5" height="11" fill="#000" />
<rect x="719" y="462" width="1" height="50" fill="#000" />
<rect x="717" y="468" width="5" height="16" fill="#000" />
<rect x="718" y="469" width="3" height="14" fill="#fff" />
<rect x="727" y="475" width="1" height="12" fill="#000" />
<rect x="725" y="479" width="5" height="6" fill="#000" />
<rect x="735" y="475" width="1" height="20" fill="#000" />
<rect x="733" y="479" width="5" height="5" fill="#000" />
<rect x="734" y="480" width="3" height="3" fill="#fff" />
<rect x="743" y="407" width="1" height="78" fill="#000" />
<rect x="741" y="415" width="5" height="65" fill="#000" />
<rect x="742" y="416" width="3" height="63" fill="#fff" />
<rect x="751" y="409" width="1" height="76" fill="#000" />
<rect x="749" y="414" width="5" height="62" fill="#000" />
<rect x="759" y="445" width="1" height="43" fill="#000" />
<rect x="757" y="451" width="5" height="27" fill="#000" />
<rect x="758" y="452" width="3" height="25" fill="#fff" />
<rect x="767" y="448" width="1" height="27" fill="#000" />
<rect x="765" y="451" width="5" height="11" fill="#000" />
<rect x="775" y="450" width="1" height="10" fill="#000" />
<rect x="773" y="452" width="5" height="6" fill="#000" />
<rect x="774" y="453" width="3" height="4" fill="#fff" />
<rect x="783" y="354" width="1" height="101" fill="#000" />
<rect x="781" y="370" width="5" height="83" fill="#000" />
<rect x="782" y="371" width="3" height="81" fill="#fff" />
<rect x="791" y="324" width="1" height="57" fill="#000" />
<rect x="789" y="330" width="5" height="41" fill="#000" />
<rect x="790" y="331" width="3" height="39" fill="#fff" />
<rect x="799" y="306" width="1" height="39" fill="#000" />
<rect x="797" y="331" width="5" height="8" fill="#000" />
<rect x="807" y="336" width="1" height="59" fill="#000" />
<rect x="805" y="337" width="5" height="53" fill="#000" />
<rect x="815" y="368" width="1" height="35" fill="#000" />
<rect x="813" y="388" width="5" height="4" fill="#000" />
<rect x="823" y="371" width="1" height="17" fill="#000" />
<rect x="821" y="373" width="5" height="14" fill="#000" />
<rect x="822" y="374" width="3" height="12" fill="#fff" />
<rect x="831" y="356" width="1" height="42" fill="#000" />
<rect x="829" y="373" width="5" height="6" fill="#000" />
<rect x="839" y="373" width="1" height="20" fill="#000" />
<rect x="837" y="379" width="5" height="4" fill="#000" />
<rect x="847" y="379" width="1" height="19" fill="#000" />
<rect x="845" y="383" width="5" height="15" fill="#000" />
<rect x="855" y="385" width="1" height="30" fill="#000" />
<rect x="853" y="398" width="5" height="5" fill="#000" />
<rect x="863" y="384" width="1" height="20" fill="#000" />
<rect x="861" y="390" width="5" height="13" fill="#000" />
<rect x="862" y="391" width="3" height="11" fill="#fff" />
<rect x="871" y="381" width="1" height="5" fill="#000" />
<rect x="869" y="382" width="5" height="4" fill="#000" />
<rect x="870" y="383" width="3" height="2" fill="#fff" />
<rect x="879" y="339" width="1" height="45" fill="#000" />
<rect x="877" y="340" width="5" height="43" fill="#000" />
<rect x="878" y="341" width="3" height="41" fill="#fff" />
<rect x="887" y="322" width="1" height="26" fill="#000" />
<rect x="885" y="329" width="5" height="13" fill="#000" />
<rect x="886" y="330" width="3" height="11" fill="#fff" />
<rect x="895" y="321" width="1" height="31" fill="#000" />
<rect x="893" y="326" width="5" height="4" fill="#000" />
<rect x="894" y="327" width="3" height="2" fill="#fff" />
<rect x="903" y="323" width="1" height="31" fill="#000" />
<rect x="901" y="326" width="5" height="18" fill="#000" />
<rect x="911" y="343" width="1" height="31" fill="#000" />
<rect x="909" y="343" width="5" height="30" fill="#000" />
<rect x="919" y="355" width="1" height="11" fill="#000" />
<rect x="917" y="359" width="5" height="6" fill="#000" />
<rect x="918" y="360" width="3" height="4" fill="#fff" />
<rect x="927" y="335" width="1" height="37" fill="#000" />
<rect x="925" y="348" width="5" height="12" fill="#000" />
<rect x="926" y="349" width="3" height="10" fill="#fff" />
<rect x="935" y="305" width="1" height="48" fill="#000" />
<rect x="933" y="317" width="5" height="31" fill="#000" />
<rect x="934" y="318" width="3" height="29" fill="#fff" />
<rect x="943" y="301" width="1" height="55" fill="#000" />
<rect x="941" y="317" width="5" height="13" fill="#000" />
<rect x="951" y="306" width="1" height="28" fill="#000" />
<rect x="949" y="328" width="5" height="2" fill="#000" />
<rect x="959" y="291" width="1" height="46" fill="#000" />
<rect x="957" y="318" width="5" height="11" fill="#000" />
<rect x="958" y="319" width="3" height="9" fill="#fff" />
<rect x="967" y="320" width="1" height="6" fill="#000" />
<rect x="965" y="323" width="5" height="2" fill="#000" />
<rect x="975" y="322" width="1" height="68" fill="#000" />
<rect x="973" y="323" width="5" height="32" fill="#000" />
<rect x="983" y="338" width="1" height="34" fill="#000" />
<rect x="981" y="345" width="5" height="10" fill="#000" />
<rect x="982" y="346" width="3" height="8" fill="#fff" />
<rect x="991" y="305" width="1" height="42" fill="#000" />
<rect x="989" y="338" width="5" height="8" fill="#000" />
<rect x="990" y="339" width="3" height="6" fill="#fff" />
<rect x="999" y="328" width="1" height="45" fill="#000" />
<rect x="997" y="338" width="5" height="29" fill="#000" />
<rect x="1007" y="364" width="1" height="58" fill="#000" />
<rect x="1005" y="366" width="5" height="36" fill="#000" />
<rect x="1015" y="362" width="1" height="12" fill="#000" />
<rect x="1013" y="369" width="5" height="2" fill="#000" />
<rect x="1023" y="336" width="1" height="41" fill="#000" />
<rect x="1021" y="365" width="5" height="6" fill="#000" />
<rect x="1022" y="366" width="3" height="4" fill="#fff" />
<rect x="1031" y="330" width="1" height="47" fill="#000" />
<rect x="1029" y="338" width="5" height="28" fill="#000" />
<rect x="1030" y="339" width="3" height="26" fill="#fff" />
<rect x="1039" y="314" width="1" height="33" fill="#000" />
<rect x="1037" y="326" width="5" height="14" fill="#000" />
<rect x="1038" y="327" width="3" height="12" fill="#fff" />
<rect x="1047" y="300" width="1" height="32" fill="#000" />
<rect x="1045" y="318" width="5" height="9" fill="#000" />
<rect x="1046" y="319" width="3" height="7" fill="#fff" />
<rect x="1055" y="305" width="1" height="35" fill="#000" />
<rect x="1053" y="317" width="5" height="16" fill="#000" />
<rect x="1063" y="353" width="1" height="17" fill="#000" />
<rect x="1061" y="358" width="5" height="5" fill="#000" />
<rect x="1071" y="333" width="1" height="90" fill="#000" />
<rect x="1069" y="352" width="5" height="10" fill="#000" />
<rect x="1070" y="353" width="3" height="8" fill="#fff" />
<rect x="1079" y="347" width="1" height="36" fill="#000" />
<rect x="1077" y="352" width="5" height="10" fill="#000" />
<rect x="1087" y="305" width="1" height="63" fill="#000" />
<rect x="1085" y="320" width="5" height="42" fill="#000" />
<rect x="1086" y="321" width="3" height="40" fill="#fff" />
<rect x="1095" y="274" width="1" height="48" fill="#000" />
<rect x="1093" y="303" width="5" height="19" fill="#000" />
<rect x="1094" y="304" width="3" height="17" fill="#fff" />
<rect x="1103" y="297" width="1" height="11" fill="#000" />
<rect x="1101" y="299" width="5" height="9" fill="#000" />
<rect x="1102" y="300" width="3" height="7" fill="#fff" />
<rect x="1111" y="296" width="1" height="39" fill="#000" />
<rect x="1109" y="299" width="5" height="30" fill="#000" />
<rect x="1119" y="310" width="1" height="21" fill="#000" />
<rect x="1117" y="324" width="5" height="5" fill="#000" />
<rect x="1118" y="325" width="3" height="3" fill="#fff" />
<rect x="1127" y="293" width="1" height="34" fill="#000" />
<rect x="1125" y="297" width="5" height="28" fill="#000" />
<rect x="1126" y="298" width="3" height="26" fill="#fff" />
<rect x="1135" y="273" width="1" height="31" fill="#000" />
<rect x="1133" y="282" width="5" height="16" fill="#000" />
<rect x="1134" y="283" width="3" height="14" fill="#fff" />
<rect x="1143" y="271" width="1" height="15" fill="#000" />
<rect x="1141" y="273" width="5" height="13" fill="#000" />
<rect x="1142" y="274" width="3" height="11" fill="#fff" />
<rect x="1151" y="272" width="1" height="56" fill="#000" />
<rect x="1149" y="273" width="5" height="46" fill="#000" />
<rect x="1159" y="311" width="1" height="23" fill="#000" />
<rect x="1157" y="317" width="5" height="3" fill="#000" />
<rect x="1167" y="296" width="1" height="29" fill="#000" />
<rect x="1165" y="304" width="5" height="15" fill="#000" />
<rect x="1166" y="305" width="3" height="13" fill="#fff" />
<rect x="1175" y="281" width="1" height="32" fill="#000" />
<rect x="1173" y="287" width="5" height="19" fill="#000" />
<rect x="1174" y="288" width="3" height="17" fill="#fff" />
<rect x="1183" y="268" width="1" height="23" fill="#000" />
<rect x="1181" y="284" width="5" height="4" fill="#000" />
<rect x="1182" y="285" width="3" height="2" fill="#fff" />
<rect x="1191" y="285" width="1" height="10" fill="#000" />
<rect x="1189" y="290" width="5" height="3" fill="#000" />
<rect x="1199" y="284" width="1" height="21" fill="#000" />
<rect x="1197" y="287" width="5" height="6" fill="#000" />
<rect x="1198" y="288" width="3" height="4" fill="#fff" />
<rect x="1207" y="246" width="1" height="45" fill="#000" />
<rect x="1205" y="254" width="5" height="35" fill="#000" />
<rect x="1206" y="255" width="3" height="33" fill="#fff" />
<rect x="1215" y="238" width="1" height="26" fill="#000" />
<rect x="1213" y="254" width="5" height="4" fill="#000" />
<rect x="1223" y="238" width="1" height="22" fill="#000" />
<rect x="1221" y="244" width="5" height="14" fill="#000" />
<rect x="1222" y="245" width="3" height="12" fill="#fff" />
<rect x="1231" y="243" width="1" height="41" fill="#000" />
<rect x="1229" y="244" width="5" height="37" fill="#000" />
<rect x="1239" y="274" width="1" height="11" fill="#000" />
<rect x="1237" y="281" width="5" height="3" fill="#000" />
<rect x="1238" y="282" width="3" height="1" fill="#fff" />
<rect x="1247" y="278" width="1" height="27" fill="#000" />
<rect x="1245" y="281" width="5" height="6" fill="#000" />
<rect x="1255" y="253" width="1" height="35" fill="#000" />
<rect x="1253" y="255" width="5" height="32" fill="#000" />
<rect x="1254" y="256" width="3" height="30" fill="#fff" />
<rect x="1263" y="235" width="1" height="44" fill="#000" />
<rect x="1261" y="255" width="5" height="9" fill="#000" />
<rect x="1271" y="239" width="1" height="29" fill="#000" />
<rect x="1269" y="243" width="5" height="21" fill="#000" />
<rect x="1270" y="244" width="3" height="19" fill="#fff" />
<rect x="1279" y="239" width="1" height="25" fill="#000" />
<rect x="1277" y="243" width="5" height="2" fill="#000" />
<rect x="1287" y="243" width="1" height="6" fill="#000" />
<rect x="1285" y="245" width="5" height="4" fill="#000" />
<rect x="1286" y="246" width="3" height="2" fill="#fff" />
<rect x="1295" y="235" width="1" height="24" fill="#000" />
<rect x="1293" y="245" width="5" height="6" fill="#000" />
<rect x="1303" y="231" width="1" height="42" fill="#000" />
<rect x="1301" y="234" width="5" height="17" fill="#000" />
<rect x="1302" y="235" width="3" height="15" fill="#fff" />
<rect x="1311" y="217" width="1" height="23" fill="#000" />
<rect x="1309" y="234" width="5" height="1" fill="#000" />
<rect x="1319" y="203" width="1" height="38" fill="#000" />
<rect x="1317" y="207" width="5" height="28" fill="#000" />
<rect x="1318" y="208" width="3" height="26" fill="#fff" />
<rect x="1327" y="179" width="1" height="34" fill="#000" />
<rect x="1325" y="194" width="5" height="14" fill="#000" />
<rect x="1326" y="195" width="3" height="12" fill="#fff" />
<rect x="1335" y="191" width="1" height="9" fill="#000" />
<rect x="1333" y="192" width="5" height="6" fill="#000" />
<rect x="1343" y="174" width="1" height="29" fill="#000" />
<rect x="1341" y="197" width="5" height="1" fill="#000" />
<rect x="1351" y="185" width="1" height="23" fill="#000" />
<rect x="1349" y="196" width="5" height="2" fill="#000" />
<rect x="1359" y="188" width="1" height="21" fill="#000" />
<rect x="1357" y="196" width="5" height="6" fill="#000" />
<rect x="1367" y="163" width="1" height="55" fill="#000" />
<rect x="1365" y="165" width="5" height="37" fill="#000" />
<rect x="1366" y="166" width="3" height="35" fill="#fff" />
<rect x="1375" y="146" width="1" height="23" fill="#000" />
<rect x="1373" y="151" width="5" height="15" fill="#000" />
<rect x="1374" y="152" width="3" height="13" fill="#fff" />
<rect x="1383" y="148" width="1" height="11" fill="#000" />
<rect x="1381" y="150" width="5" height="7" fill="#000" />
<rect x="1382" y="151" width="3" height="5" fill="#fff" />
<rect x="1391" y="145" width="1" height="19" fill="#000" />
<rect x="1389" y="149" width="5" height="7" fill="#000" />
<rect x="1399" y="154" width="1" height="23" fill="#000" />
<rect x="1397" y="156" width="5" height="5" fill="#000" />
<rect x="1407" y="140" width="1" height="25" fill="#000" />
<rect x="1405" y="153" width="5" height="8" fill="#000" />
<rect x="1406" y="154" width="3" height="6" fill="#fff" />
<rect x="1415" y="146" width="1" height="12" fill="#000" />
<rect x="1413" y="153" width="5" height="2" fill="#000" />
<rect x="1423" y="126" width="1" height="35" fill="#000" />
<rect x="1421" y="129" width="5" height="26" fill="#000" />
<rect x="1422" y="130" width="3" height="24" fill="#fff" />
<rect x="1431" y="116" width="1" height="15" fill="#000" />
<rect x="1429" y="117" width="5" height="13" fill="#000" />
<rect x="1430" y="118" width="3" height="11" fill="#fff" />
<rect x="1439" y="84" width="1" height="37" fill="#000" />
<rect x="1437" y="86" width="5" height="33" fill="#000" />
<rect x="1438" y="87" width="3" height="31" fill="#fff" />
<rect x="1447" y="57" width="1" height="33" fill="#000" />
<rect x="1445" y="59" width="5" height="28" fill="#000" />
<rect x="1446" y="60" width="3" height="26" fill="#fff" />
<g shape-rendering="auto"><line x1="1069.4" y1="394" x2="1467.3" y2="50.8" stroke="#ff0000" stroke-width="3.6"/>
<path d="M1475.2,42.8 L1463.8,48 L1466.5,51.2 L1469.6,55.4 Z" fill="#ff0000" stroke="#ff0000" stroke-width="1.2" stroke-linejoin="round"/></g>
<rect x="1422" y="67" width="76" height="7" fill="#00ff00" />
<rect x="240" y="212" width="62" height="19" fill="#ff0000" />
<rect x="241" y="213" width="60" height="17" fill="#fff" />
<text x="242.5" y="228" font-size="16" fill="#ff0000" textLength="58.2" lengthAdjust="spacingAndGlyphs">142.715</text>
<rect x="302" y="221" width="9" height="1" fill="#ff0000" />
<rect x="384" y="548" width="62" height="19" fill="#ff0000" />
<rect x="385" y="549" width="60" height="17" fill="#fff" />
<text x="386.5" y="564" font-size="16" fill="#ff0000" textLength="58.2" lengthAdjust="spacingAndGlyphs">133.049</text>
<rect x="446" y="557" width="9" height="1" fill="#ff0000" />
<rect x="648" y="502" width="62" height="19" fill="#ff0000" />
<rect x="649" y="503" width="60" height="17" fill="#fff" />
<text x="650.5" y="518" font-size="16" fill="#ff0000" textLength="58.2" lengthAdjust="spacingAndGlyphs">134.382</text>
<rect x="713" y="511" width="6" height="1" fill="#ff0000" />
<rect x="710" y="509" width="3" height="4" fill="#ff0000" />
<rect x="711" y="510" width="1" height="2" fill="#fff" />
<rect x="728" y="298" width="62" height="19" fill="#ff0000" />
<rect x="729" y="299" width="60" height="17" fill="#fff" />
<text x="730.5" y="314" font-size="16" fill="#ff0000" textLength="58.2" lengthAdjust="spacingAndGlyphs">140.248</text>
<rect x="790" y="307" width="9" height="1" fill="#ff0000" />
<rect x="1000" y="413" width="62" height="19" fill="#ff0000" />
<rect x="1001" y="414" width="60" height="17" fill="#fff" />
<text x="1002.5" y="429" font-size="16" fill="#ff0000" textLength="58.2" lengthAdjust="spacingAndGlyphs">136.933</text>
<rect x="1062" y="422" width="9" height="1" fill="#ff0000" />
<rect x="1007" y="413" width="1" height="16" fill="#000" />
<rect x="1320" y="70" width="7" height="1" fill="#ff0000" />
<rect x="1327" y="68" width="3" height="4" fill="#ff0000" />
<rect x="1328" y="69" width="1" height="2" fill="#fff" />
<rect x="1330" y="58" width="74" height="25" fill="#ff0000" />
<rect x="1331" y="59" width="72" height="23" fill="#fff" />
<text x="1333" y="79" font-size="23" fill="#ff0000" textLength="69" lengthAdjust="spacingAndGlyphs">147.066</text>
<rect x="1512" y="72" width="111" height="1" fill="#404040" />
<rect x="1512" y="96" width="111" height="1" fill="#404040" />
<rect x="1512" y="72" width="1" height="25" fill="#404040" />
<rect x="1622" y="72" width="1" height="25" fill="#404040" />
<rect x="1565" y="70" width="3" height="1" fill="#00ff00" />
<rect x="1565" y="71" width="1" height="1" fill="#00ff00" />
<rect x="1567" y="71" width="1" height="1" fill="#00ff00" />
<rect x="1565" y="72" width="3" height="1" fill="#e040e0" />
<g shape-rendering="auto">
<text x="1512.3" y="91.5" font-size="21.5" fill="#00ff00" stroke="#00ff00" stroke-width="0.17" textLength="108.3" lengthAdjust="spacing" font-family="'Liberation Serif', 'Noto Serif CJK SC', serif">多空转折点</text>
</g>
</g>
<rect x="0" y="42" width="223" height="67" fill="#fff" />
<path d="M2,44 H54 V68 H111 V108 H2 Z" fill="#0000aa"/>
<path d="M169,44 H221 V108 H113 V68 H169 Z" fill="#0000aa"/>
<path d="M3,45 H53 V69 H110 V107 H3 Z" fill="url(#gs)"/>
<path d="M170,45 H220 V107 H114 V69 H170 Z" fill="url(#gs)"/>
<rect x="6" y="67" width="44" height="1" fill="#000088" />
<rect x="173" y="67" width="44" height="1" fill="#000088" />
<rect x="6" y="68" width="44" height="1" fill="#7474ff" />
<rect x="173" y="68" width="44" height="1" fill="#7474ff" />
<rect x="56" y="44" width="111" height="22" fill="#b4b4b4" />
<rect x="57" y="45" width="109" height="20" fill="#fff" />
<rect x="57" y="45" width="21" height="20" fill="url(#gbtn)" />
<rect x="146" y="45" width="20" height="20" fill="url(#gbtn)" />
<rect x="77" y="45" width="1" height="20" fill="#c8c8c8" />
<rect x="145" y="45" width="1" height="20" fill="#c8c8c8" />
<g shape-rendering="auto"><path d="M64,53 H70 L67,56.5 Z" fill="#5a6aa8"/><path d="M152.5,56.5 H158.5 L155.5,53 Z" fill="#5a6aa8"/></g>
<g shape-rendering="auto">
<text x="141.5" y="59" font-size="12" fill="#000" text-anchor="end">1.00</text>
<text x="14" y="59" font-size="11.8" fill="#fff" textLength="26" lengthAdjust="spacingAndGlyphs">SELL</text>
<text x="182.5" y="59" font-size="11.8" fill="#fff" textLength="23" lengthAdjust="spacingAndGlyphs">BUY</text>
<text x="25.5" y="99" font-size="11.5" fill="#fff" font-weight="bold" textLength="20" lengthAdjust="spacingAndGlyphs">147</text>
<text x="136" y="99" font-size="11.5" fill="#fff" font-weight="bold" textLength="20" lengthAdjust="spacingAndGlyphs">147</text>
<text x="50" y="98.8" font-size="35.5" fill="#fff" textLength="34" lengthAdjust="spacingAndGlyphs" stroke="#2020d0" stroke-width="0.6">37</text>
<text x="161" y="98.8" font-size="35.5" fill="#fff" textLength="34.5" lengthAdjust="spacingAndGlyphs" stroke="#2020d0" stroke-width="0.6">50</text>
<text x="89.5" y="82.6" font-size="11.5" fill="#fff" font-weight="bold">1</text>
<text x="200" y="82.6" font-size="11.5" fill="#fff" font-weight="bold">7</text>
</g>
<g shape-rendering="auto"><path d="M2,35.5 H9.5 L5.75,30.8 Z" fill="#000"/>
<text transform="translate(14,36.3) rotate(0.03) scale(1.0434,1.13)" font-size="9" fill="#000" stroke="#000" stroke-width="0.22">GBPJPY-,Daily</text>
<text transform="translate(83.5,36.3) rotate(0.03) scale(1.0173,1.13)" font-size="9" fill="#000" stroke="#000" stroke-width="0.22">146.600 147.433 146.504 147.371</text>
</g>
<g clip-path="url(#cm)">
<rect x="7" y="650" width="1" height="13" fill="#c0c0c0" />
<rect x="15" y="646" width="1" height="17" fill="#c0c0c0" />
<rect x="23" y="641" width="1" height="22" fill="#c0c0c0" />
<rect x="31" y="636" width="1" height="27" fill="#c0c0c0" />
<rect x="39" y="634" width="1" height="29" fill="#c0c0c0" />
<rect x="47" y="635" width="1" height="28" fill="#c0c0c0" />
<rect x="55" y="636" width="1" height="27" fill="#c0c0c0" />
<rect x="63" y="636" width="1" height="27" fill="#c0c0c0" />
<rect x="71" y="636" width="1" height="27" fill="#c0c0c0" />
<rect x="79" y="634" width="1" height="29" fill="#c0c0c0" />
<rect x="87" y="628" width="1" height="35" fill="#c0c0c0" />
<rect x="95" y="618" width="1" height="45" fill="#c0c0c0" />
<rect x="103" y="610" width="1" height="53" fill="#c0c0c0" />
<rect x="111" y="605" width="1" height="58" fill="#c0c0c0" />
<rect x="119" y="603" width="1" height="60" fill="#c0c0c0" />
<rect x="127" y="601" width="1" height="62" fill="#c0c0c0" />
<rect x="135" y="599" width="1" height="64" fill="#c0c0c0" />
<rect x="143" y="601" width="1" height="62" fill="#c0c0c0" />
<rect x="151" y="603" width="1" height="60" fill="#c0c0c0" />
<rect x="159" y="604" width="1" height="59" fill="#c0c0c0" />
<rect x="167" y="602" width="1" height="61" fill="#c0c0c0" />
<rect x="175" y="600" width="1" height="63" fill="#c0c0c0" />
<rect x="183" y="598" width="1" height="65" fill="#c0c0c0" />
<rect x="191" y="599" width="1" height="64" fill="#c0c0c0" />
<rect x="199" y="599" width="1" height="64" fill="#c0c0c0" />
<rect x="207" y="603" width="1" height="60" fill="#c0c0c0" />
<rect x="215" y="604" width="1" height="59" fill="#c0c0c0" />
<rect x="223" y="608" width="1" height="55" fill="#c0c0c0" />
<rect x="231" y="609" width="1" height="54" fill="#c0c0c0" />
<rect x="239" y="615" width="1" height="48" fill="#c0c0c0" />
<rect x="247" y="620" width="1" height="43" fill="#c0c0c0" />
<rect x="255" y="625" width="1" height="38" fill="#c0c0c0" />
<rect x="263" y="623" width="1" height="40" fill="#c0c0c0" />
<rect x="271" y="622" width="1" height="41" fill="#c0c0c0" />
<rect x="279" y="617" width="1" height="46" fill="#c0c0c0" />
<rect x="287" y="615" width="1" height="48" fill="#c0c0c0" />
<rect x="295" y="612" width="1" height="51" fill="#c0c0c0" />
<rect x="303" y="607" width="1" height="56" fill="#c0c0c0" />
<rect x="311" y="603" width="1" height="60" fill="#c0c0c0" />
<rect x="319" y="601" width="1" height="62" fill="#c0c0c0" />
<rect x="327" y="605" width="1" height="58" fill="#c0c0c0" />
<rect x="335" y="607" width="1" height="56" fill="#c0c0c0" />
<rect x="343" y="610" width="1" height="53" fill="#c0c0c0" />
<rect x="351" y="618" width="1" height="45" fill="#c0c0c0" />
<rect x="359" y="636" width="1" height="27" fill="#c0c0c0" />
<rect x="367" y="648" width="1" height="15" fill="#c0c0c0" />
<rect x="375" y="662" width="1" height="5" fill="#c0c0c0" />
<rect x="383" y="662" width="1" height="20" fill="#c0c0c0" />
<rect x="391" y="662" width="1" height="32" fill="#c0c0c0" />
<rect x="399" y="662" width="1" height="42" fill="#c0c0c0" />
<rect x="407" y="662" width="1" height="49" fill="#c0c0c0" />
<rect x="415" y="662" width="1" height="51" fill="#c0c0c0" />
<rect x="423" y="662" width="1" height="54" fill="#c0c0c0" />
<rect x="431" y="662" width="1" height="60" fill="#c0c0c0" />
<rect x="439" y="662" width="1" height="64" fill="#c0c0c0" />
<rect x="447" y="662" width="1" height="69" fill="#c0c0c0" />
<rect x="455" y="662" width="1" height="75" fill="#c0c0c0" />
<rect x="463" y="662" width="1" height="80" fill="#c0c0c0" />
<rect x="471" y="662" width="1" height="79" fill="#c0c0c0" />
<rect x="479" y="662" width="1" height="77" fill="#c0c0c0" />
<rect x="487" y="662" width="1" height="73" fill="#c0c0c0" />
<rect x="495" y="662" width="1" height="66" fill="#c0c0c0" />
<rect x="503" y="662" width="1" height="57" fill="#c0c0c0" />
<rect x="511" y="662" width="1" height="50" fill="#c0c0c0" />
<rect x="519" y="662" width="1" height="43" fill="#c0c0c0" />
<rect x="527" y="662" width="1" height="37" fill="#c0c0c0" />
<rect x="535" y="662" width="1" height="31" fill="#c0c0c0" />
<rect x="543" y="662" width="1" height="21" fill="#c0c0c0" />
<rect x="551" y="662" width="1" height="19" fill="#c0c0c0" />
<rect x="559" y="662" width="1" height="13" fill="#c0c0c0" />
<rect x="567" y="662" width="1" height="7" fill="#c0c0c0" />
<rect x="583" y="658" width="1" height="5" fill="#c0c0c0" />
<rect x="591" y="654" width="1" height="9" fill="#c0c0c0" />
<rect x="599" y="657" width="1" height="6" fill="#c0c0c0" />
<rect x="607" y="657" width="1" height="6" fill="#c0c0c0" />
<rect x="615" y="661" width="1" height="2" fill="#c0c0c0" />
<rect x="631" y="662" width="1" height="2" fill="#c0c0c0" />
<rect x="639" y="662" width="1" height="2" fill="#c0c0c0" />
<rect x="655" y="662" width="1" height="2" fill="#c0c0c0" />
<rect x="663" y="658" width="1" height="5" fill="#c0c0c0" />
<rect x="671" y="661" width="1" height="2" fill="#c0c0c0" />
<rect x="679" y="661" width="1" height="2" fill="#c0c0c0" />
<rect x="687" y="662" width="1" height="2" fill="#c0c0c0" />
<rect x="695" y="662" width="1" height="2" fill="#c0c0c0" />
<rect x="703" y="662" width="1" height="7" fill="#c0c0c0" />
<rect x="711" y="662" width="1" height="13" fill="#c0c0c0" />
<rect x="719" y="662" width="1" height="15" fill="#c0c0c0" />
<rect x="727" y="662" width="1" height="19" fill="#c0c0c0" />
<rect x="735" y="662" width="1" height="20" fill="#c0c0c0" />
<rect x="743" y="662" width="1" height="13" fill="#c0c0c0" />
<rect x="751" y="662" width="1" height="15" fill="#c0c0c0" />
<rect x="759" y="662" width="1" height="13" fill="#c0c0c0" />
<rect x="767" y="662" width="1" height="14" fill="#c0c0c0" />
<rect x="775" y="662" width="1" height="11" fill="#c0c0c0" />
<rect x="783" y="661" width="1" height="2" fill="#c0c0c0" />
<rect x="791" y="647" width="1" height="16" fill="#c0c0c0" />
<rect x="799" y="636" width="1" height="27" fill="#c0c0c0" />
<rect x="807" y="635" width="1" height="28" fill="#c0c0c0" />
<rect x="815" y="635" width="1" height="28" fill="#c0c0c0" />
<rect x="823" y="632" width="1" height="31" fill="#c0c0c0" />
<rect x="831" y="632" width="1" height="31" fill="#c0c0c0" />
<rect x="839" y="632" width="1" height="31" fill="#c0c0c0" />
<rect x="847" y="635" width="1" height="28" fill="#c0c0c0" />
<rect x="855" y="638" width="1" height="25" fill="#c0c0c0" />
<rect x="863" y="639" width="1" height="24" fill="#c0c0c0" />
<rect x="871" y="639" width="1" height="24" fill="#c0c0c0" />
<rect x="879" y="634" width="1" height="29" fill="#c0c0c0" />
<rect x="887" y="628" width="1" height="35" fill="#c0c0c0" />
<rect x="895" y="624" width="1" height="39" fill="#c0c0c0" />
<rect x="903" y="623" width="1" height="40" fill="#c0c0c0" />
<rect x="911" y="627" width="1" height="36" fill="#c0c0c0" />
<rect x="919" y="630" width="1" height="33" fill="#c0c0c0" />
<rect x="927" y="630" width="1" height="33" fill="#c0c0c0" />
<rect x="935" y="626" width="1" height="37" fill="#c0c0c0" />
<rect x="943" y="625" width="1" height="38" fill="#c0c0c0" />
<rect x="951" y="624" width="1" height="39" fill="#c0c0c0" />
<rect x="959" y="623" width="1" height="40" fill="#c0c0c0" />
<rect x="967" y="625" width="1" height="38" fill="#c0c0c0" />
<rect x="975" y="628" width="1" height="35" fill="#c0c0c0" />
<rect x="983" y="631" width="1" height="32" fill="#c0c0c0" />
<rect x="991" y="633" width="1" height="30" fill="#c0c0c0" />
<rect x="999" y="639" width="1" height="24" fill="#c0c0c0" />
<rect x="1007" y="648" width="1" height="15" fill="#c0c0c0" />
<rect x="1015" y="651" width="1" height="12" fill="#c0c0c0" />
<rect x="1023" y="653" width="1" height="10" fill="#c0c0c0" />
<rect x="1031" y="651" width="1" height="12" fill="#c0c0c0" />
<rect x="1039" y="648" width="1" height="15" fill="#c0c0c0" />
<rect x="1047" y="645" width="1" height="18" fill="#c0c0c0" />
<rect x="1055" y="645" width="1" height="18" fill="#c0c0c0" />
<rect x="1063" y="649" width="1" height="14" fill="#c0c0c0" />
<rect x="1071" y="651" width="1" height="12" fill="#c0c0c0" />
<rect x="1079" y="653" width="1" height="10" fill="#c0c0c0" />
<rect x="1087" y="651" width="1" height="12" fill="#c0c0c0" />
<rect x="1095" y="645" width="1" height="18" fill="#c0c0c0" />
<rect x="1103" y="641" width="1" height="22" fill="#c0c0c0" />
<rect x="1111" y="642" width="1" height="21" fill="#c0c0c0" />
<rect x="1119" y="643" width="1" height="20" fill="#c0c0c0" />
<rect x="1127" y="640" width="1" height="23" fill="#c0c0c0" />
<rect x="1135" y="636" width="1" height="27" fill="#c0c0c0" />
<rect x="1143" y="632" width="1" height="31" fill="#c0c0c0" />
<rect x="1151" y="635" width="1" height="28" fill="#c0c0c0" />
<rect x="1159" y="638" width="1" height="25" fill="#c0c0c0" />
<rect x="1167" y="638" width="1" height="25" fill="#c0c0c0" />
<rect x="1175" y="636" width="1" height="27" fill="#c0c0c0" />
<rect x="1183" y="635" width="1" height="28" fill="#c0c0c0" />
<rect x="1191" y="635" width="1" height="28" fill="#c0c0c0" />
<rect x="1199" y="634" width="1" height="29" fill="#c0c0c0" />
<rect x="1207" y="631" width="1" height="32" fill="#c0c0c0" />
<rect x="1215" y="628" width="1" height="35" fill="#c0c0c0" />
<rect x="1223" y="626" width="1" height="37" fill="#c0c0c0" />
<rect x="1231" y="630" width="1" height="33" fill="#c0c0c0" />
<rect x="1239" y="632" width="1" height="31" fill="#c0c0c0" />
<rect x="1247" y="634" width="1" height="29" fill="#c0c0c0" />
<rect x="1255" y="633" width="1" height="30" fill="#c0c0c0" />
<rect x="1263" y="633" width="1" height="30" fill="#c0c0c0" />
<rect x="1271" y="630" width="1" height="33" fill="#c0c0c0" />
<rect x="1279" y="629" width="1" height="34" fill="#c0c0c0" />
<rect x="1287" y="629" width="1" height="34" fill="#c0c0c0" />
<rect x="1295" y="629" width="1" height="34" fill="#c0c0c0" />
<rect x="1303" y="629" width="1" height="34" fill="#c0c0c0" />
<rect x="1311" y="628" width="1" height="35" fill="#c0c0c0" />
<rect x="1319" y="624" width="1" height="39" fill="#c0c0c0" />
<rect x="1327" y="620" width="1" height="43" fill="#c0c0c0" />
<rect x="1335" y="618" width="1" height="45" fill="#c0c0c0" />
<rect x="1343" y="616" width="1" height="47" fill="#c0c0c0" />
<rect x="1351" y="616" width="1" height="47" fill="#c0c0c0" />
<rect x="1359" y="616" width="1" height="47" fill="#c0c0c0" />
<rect x="1367" y="613" width="1" height="50" fill="#c0c0c0" />
<rect x="1375" y="608" width="1" height="55" fill="#c0c0c0" />
<rect x="1383" y="606" width="1" height="57" fill="#c0c0c0" />
<rect x="1391" y="605" width="1" height="58" fill="#c0c0c0" />
<rect x="1399" y="605" width="1" height="58" fill="#c0c0c0" />
<rect x="1407" y="605" width="1" height="58" fill="#c0c0c0" />
<rect x="1415" y="605" width="1" height="58" fill="#c0c0c0" />
<rect x="1423" y="603" width="1" height="60" fill="#c0c0c0" />
<rect x="1431" y="602" width="1" height="61" fill="#c0c0c0" />
<rect x="1439" y="596" width="1" height="67" fill="#c0c0c0" />
<rect x="1447" y="589" width="1" height="74" fill="#c0c0c0" />
<polyline points="0.0,647.4 23.0,646.3 30.7,644.0 55.6,641.1 70.9,637.9 86.2,634.4 95.8,631.9 107.3,627.1 118.8,622.0 134.2,614.3 151.4,606.6 162.9,603.4 178.2,601.4 191.6,600.1 210.8,600.5 226.1,601.4 243.4,603.7 254.9,608.0 272.1,613.9 287.5,616.2 295.1,617.2 306.6,616.2 318.1,613.3 323.3,612.6 331.0,610.4 343.0,607.1 352.8,608.6 366.0,613.0 376.9,622.9 390.0,638.2 407.6,662.3 422.9,684.2 438.2,702.8 455.7,718.1 473.2,727.3 486.4,731.9 497.3,733.9 510.5,731.7 523.6,726.9 538.9,715.9 554.2,703.9 569.6,690.7 582.7,680.9 595.8,672.1 606.8,666.7 617.7,663.4 630.9,660.5 663.7,660.5 674.6,661.4 690.0,661.6 703.1,662.3 720.6,664.0 733.8,668.2 746.9,672.1 757.9,674.3 775.4,676.1 784.1,674.3 795.1,668.9 808.2,660.7 821.3,653.5 832.3,647.0 841.0,641.5 852.0,636.0 862.9,634.5 880.5,634.5 891.4,632.7 904.5,631.4 917.7,630.5 930.8,629.0 941.8,626.2 952.7,625.1 974.6,625.5 994.3,626.2 1007.4,629.9 1020.6,635.4 1031.5,638.9 1040.3,642.6 1055.6,644.8 1060.0,646.4 1070.0,649.0 1082.8,649.7 1098.0,647.7 1123.4,642.6 1148.7,640.1 1174.1,637.6 1199.4,635.8 1217.2,634.3 1237.4,631.7 1262.8,630.5 1288.1,629.5 1311.0,630.5 1326.2,627.4 1343.9,624.4 1366.7,620.3 1384.5,614.8 1399.7,610.2 1422.5,607.2 1435.2,604.1 1447.1,600.8" fill="none" stroke="#ff0000" stroke-width="1" stroke-dasharray="3 3"/>
<g shape-rendering="auto"><line x1="1086.6" y1="652.3" x2="1464" y2="590.6" stroke="#ff0000" stroke-width="3.6"/>
<path d="M1473.2,589.4 L1460.6,586.6 L1463,591 L1462,595.8 Z" fill="#ff0000" stroke="#ff0000" stroke-width="1.2" stroke-linejoin="round"/></g>
</g>
<g shape-rendering="auto">
<text transform="translate(3,592) rotate(0.03) scale(1.0444,1.13)" font-size="9" fill="#000" stroke="#000" stroke-width="0.22">MACD(12,26,9) 1.2506 1.0331</text>
</g>
<g clip-path="url(#cr)">
<line x1="0" y1="787.5" x2="1689" y2="787.5" stroke="#c0c0c0" stroke-width="1" stroke-dasharray="3 3"/>
<line x1="0" y1="838.5" x2="1689" y2="838.5" stroke="#c0c0c0" stroke-width="1" stroke-dasharray="3 3"/>
<line x1="0" y1="899.5" x2="1689" y2="899.5" stroke="#c0c0c0" stroke-width="1" stroke-dasharray="3 3"/>
<polyline points="0.0,836.7 7.6,832.9 15.2,818.4 30.9,811.3 48.2,827.6 71.0,823.5 78.6,817.2 95.1,795.6 101.4,794.4 111.0,794.4 119.1,805.3 126.7,801.5 135.1,800.4 143.2,810.1 150.8,813.4 158.4,808.3 183.0,796.4 191.9,804.5 199.0,802.5 207.4,818.4 215.0,812.4 223.1,820.5 231.2,813.9 239.5,832.4 247.1,831.4 255.3,832.4 263.6,816.7 271.2,816.7 279.6,808.6 287.2,810.6 295.3,808.6 302.9,802.7 311.3,800.2 319.4,802.5 327.5,822.2 335.4,817.7 343.5,823.5 351.6,837.5 359.4,862.3 367.6,853.4 375.7,868.4 383.5,869.6 391.6,866.6 399.2,867.6 407.4,867.6 415.7,862.3 423.3,864.1 431.7,870.4 438.9,869.1 447.7,876.2 455.3,878.5 463.5,878.5 471.3,867.4 478.9,868.6 487.8,862.3 495.4,847.6 503.5,844.3 511.1,841.3 518.7,843.3 527.1,839.2 535.2,837.5 543.3,825.5 551.7,842.5 559.8,832.9 575.8,824.3 583.4,825.3 591.5,825.3 599.3,842.5 607.4,837.5 615.6,847.6 623.4,843.3 631.5,843.3 639.6,839.2 647.5,838.2 655.6,827.3 663.2,831.1 671.6,841.8 679.7,839.2 687.8,842.5 695.7,845.6 703.3,854.7 711.4,859.0 719.5,850.6 727.8,856.5 735.4,853.2 743.8,827.3 751.4,848.4 759.5,840.0 767.6,843.8 775.2,840.0 784.1,817.9 792.0,811.3 799.3,813.4 807.2,829.1 814.8,830.6 823.7,825.3 831.3,827.3 839.4,829.3 847.5,833.1 855.3,835.7 863.5,832.4 871.4,829.1 879.0,818.9 886.6,815.4 895.0,814.4 903.6,822.8 911.5,833.1 927.2,825.3 935.3,817.7 943.7,822.2 951.8,822.2 960.1,818.9 968.2,821.0 975.3,835.4 983.7,831.1 991.3,829.3 1007.5,852.2 1015.4,841.3 1023.5,839.2 1031.9,830.4 1039.5,826.0 1047.6,823.5 1055.2,829.8 1063.5,841.3 1071.7,837.5 1079.3,840.5 1087.4,827.3 1095.7,822.8 1103.3,821.5 1111.7,832.4 1119.3,831.1 1127.9,823.5 1136.3,817.9 1143.1,816.4 1151.5,834.2 1159.6,834.4 1168.0,829.3 1175.6,824.8 1183.2,823.5 1192.1,827.8 1199.7,825.3 1207.8,815.4 1215.6,816.7 1223.0,812.1 1231.4,831.1 1239.0,827.3 1247.1,832.4 1255.4,821.5 1263.0,825.3 1270.6,819.7 1279.5,818.9 1287.1,821.0 1295.1,822.7 1302.8,816.3 1311.8,816.3 1319.5,807.0 1327.8,803.4 1336.2,805.2 1344.0,805.2 1351.7,805.2 1359.4,809.6 1367.6,797.5 1376.1,794.2 1383.8,793.7 1392.0,798.0 1400.5,802.7 1408.2,800.6 1415.1,800.6 1423.6,794.4 1431.3,790.6 1439.0,783.4 1446.7,778.8" fill="none" stroke="#1e90ff" stroke-width="1"/>
<g shape-rendering="auto"><line x1="1232" y1="832" x2="1453" y2="780.2" stroke="#ff0000" stroke-width="3.6"/>
<path d="M1462.2,778.4 L1449.6,776.4 L1452.3,780.4 L1452.6,784.8 Z" fill="#ff0000" stroke="#ff0000" stroke-width="1.2" stroke-linejoin="round"/></g>
</g>
<g shape-rendering="auto">
<text transform="translate(3,764) rotate(0.03) scale(1.0298,1.13)" font-size="9" fill="#000" stroke="#000" stroke-width="0.22">RSI(14) 84.8865</text>
</g>
<g shape-rendering="auto">
<rect x="1690" y="46" width="3" height="1" fill="#000" shape-rendering="crispEdges"/>
<text transform="translate(1695,50) rotate(0.03) scale(1.0145,1.13)" font-size="9" fill="#000" stroke="#000" stroke-width="0.22">147.740</text>
<rect x="1690" y="79" width="3" height="1" fill="#000" shape-rendering="crispEdges"/>
<text transform="translate(1695,83) rotate(0.03) scale(1.0145,1.13)" font-size="9" fill="#000" stroke="#000" stroke-width="0.22">146.790</text>
<rect x="1690" y="112" width="3" height="1" fill="#000" shape-rendering="crispEdges"/>
<text transform="translate(1695,116) rotate(0.03) scale(1.0145,1.13)" font-size="9" fill="#000" stroke="#000" stroke-width="0.22">145.840</text>
<rect x="1690" y="145" width="3" height="1" fill="#000" shape-rendering="crispEdges"/>
<text transform="translate(1695,149) rotate(0.03) scale(1.0145,1.13)" font-size="9" fill="#000" stroke="#000" stroke-width="0.22">144.890</text>
<rect x="1690" y="178" width="3" height="1" fill="#000" shape-rendering="crispEdges"/>
<text transform="translate(1695,182) rotate(0.03) scale(1.0145,1.13)" font-size="9" fill="#000" stroke="#000" stroke-width="0.22">143.940</text>
<rect x="1690" y="211" width="3" height="1" fill="#000" shape-rendering="crispEdges"/>
<text transform="translate(1695,215) rotate(0.03) scale(1.0145,1.13)" font-size="9" fill="#000" stroke="#000" stroke-width="0.22">142.990</text>
<rect x="1690" y="244" width="3" height="1" fill="#000" shape-rendering="crispEdges"/>
<text transform="translate(1695,248) rotate(0.03) scale(1.0145,1.13)" font-size="9" fill="#000" stroke="#000" stroke-width="0.22">142.065</text>
<rect x="1690" y="277" width="3" height="1" fill="#000" shape-rendering="crispEdges"/>
<text transform="translate(1695,281) rotate(0.03) scale(1.0358,1.13)" font-size="9" fill="#000" stroke="#000" stroke-width="0.22">141.115</text>
<rect x="1690" y="310" width="3" height="1" fill="#000" shape-rendering="crispEdges"/>
<text transform="translate(1695,314) rotate(0.03) scale(1.0145,1.13)" font-size="9" fill="#000" stroke="#000" stroke-width="0.22">140.165</text>
<rect x="1690" y="343" width="3" height="1" fill="#000" shape-rendering="crispEdges"/>
<text transform="translate(1695,347) rotate(0.03) scale(1.0145,1.13)" font-size="9" fill="#000" stroke="#000" stroke-width="0.22">139.215</text>
<rect x="1690" y="376" width="3" height="1" fill="#000" shape-rendering="crispEdges"/>
<text transform="translate(1695,380) rotate(0.03) scale(1.0145,1.13)" font-size="9" fill="#000" stroke="#000" stroke-width="0.22">138.265</text>
<rect x="1690" y="409" width="3" height="1" fill="#000" shape-rendering="crispEdges"/>
<text transform="translate(1695,413) rotate(0.03) scale(1.0145,1.13)" font-size="9" fill="#000" stroke="#000" stroke-width="0.22">137.315</text>
<rect x="1690" y="442" width="3" height="1" fill="#000" shape-rendering="crispEdges"/>
<text transform="translate(1695,446) rotate(0.03) scale(1.0145,1.13)" font-size="9" fill="#000" stroke="#000" stroke-width="0.22">136.365</text>
<rect x="1690" y="475" width="3" height="1" fill="#000" shape-rendering="crispEdges"/>
<text transform="translate(1695,479) rotate(0.03) scale(1.0145,1.13)" font-size="9" fill="#000" stroke="#000" stroke-width="0.22">135.415</text>
<rect x="1690" y="508" width="3" height="1" fill="#000" shape-rendering="crispEdges"/>
<text transform="translate(1695,512) rotate(0.03) scale(1.0145,1.13)" font-size="9" fill="#000" stroke="#000" stroke-width="0.22">134.465</text>
<rect x="1690" y="541" width="3" height="1" fill="#000" shape-rendering="crispEdges"/>
<text transform="translate(1695,545) rotate(0.03) scale(1.0145,1.13)" font-size="9" fill="#000" stroke="#000" stroke-width="0.22">133.515</text>
<rect x="1690" y="574" width="3" height="1" fill="#000" shape-rendering="crispEdges"/>
<text transform="translate(1695,578) rotate(0.03) scale(1.0145,1.13)" font-size="9" fill="#000" stroke="#000" stroke-width="0.22">132.565</text>
<rect x="1691" y="22" width="41" height="10" fill="#ff0000" shape-rendering="crispEdges"/>
<text transform="translate(1695,30) rotate(0.03) scale(1.0145,1.13)" font-size="9" fill="#fff" stroke="#fff" stroke-width="0.22">148.302</text>
<rect x="1691" y="36" width="41" height="11" fill="#ff0000" shape-rendering="crispEdges"/>
<text transform="translate(1695,45) rotate(0.03) scale(1.0145,1.13)" font-size="9" fill="#fff" stroke="#fff" stroke-width="0.22">147.851</text>
<rect x="1691" y="54" width="41" height="10" fill="#000" shape-rendering="crispEdges"/>
<text transform="translate(1695,63) rotate(0.03) scale(1.0145,1.13)" font-size="9" fill="#fff" stroke="#fff" stroke-width="0.22">147.371</text>
<rect x="1691" y="64" width="41" height="11" fill="#32cd32" shape-rendering="crispEdges"/>
<text transform="translate(1695,73) rotate(0.03) scale(1.0145,1.13)" font-size="9" fill="#fff" stroke="#fff" stroke-width="0.22">147.066</text>
<rect x="1691" y="80" width="41" height="11" fill="#0000ff" shape-rendering="crispEdges"/>
<text transform="translate(1695,89) rotate(0.03) scale(1.0145,1.13)" font-size="9" fill="#fff" stroke="#fff" stroke-width="0.22">146.589</text>
<rect x="1691" y="97" width="41" height="11" fill="#0000ff" shape-rendering="crispEdges"/>
<text transform="translate(1695,106) rotate(0.03) scale(1.0358,1.13)" font-size="9" fill="#fff" stroke="#fff" stroke-width="0.22">146.112</text>
<rect x="1690" y="581" width="2" height="1" fill="#000"/><rect x="1690" y="662" width="2" height="1" fill="#000"/><rect x="1690" y="748" width="2" height="1" fill="#000"/><rect x="1690" y="753" width="2" height="1" fill="#000"/>
<text transform="translate(1694,590) rotate(0.03) scale(1.015,1.13)" font-size="9" fill="#000" stroke="#000" stroke-width="0.22">1.3793</text>
<text transform="translate(1694,666) rotate(0.03) scale(1.015,1.13)" font-size="9" fill="#000" stroke="#000" stroke-width="0.22">0.00</text>
<text transform="translate(1694,746) rotate(0.03) scale(1.015,1.13)" font-size="9" fill="#000" stroke="#000" stroke-width="0.22">-1.4515</text>
<text transform="translate(1694,762) rotate(0.03) scale(1.015,1.13)" font-size="9" fill="#000" stroke="#000" stroke-width="0.22">100</text>
<text transform="translate(1694,791) rotate(0.03) scale(1.015,1.13)" font-size="9" fill="#000" stroke="#000" stroke-width="0.22">80</text>
<text transform="translate(1694,842) rotate(0.03) scale(1.015,1.13)" font-size="9" fill="#000" stroke="#000" stroke-width="0.22">50</text>
<text transform="translate(1694,903) rotate(0.03) scale(1.015,1.13)" font-size="9" fill="#000" stroke="#000" stroke-width="0.22">15</text>
<text transform="translate(1694,921.5) rotate(0.03) scale(1.015,1.13)" font-size="9" fill="#000" stroke="#000" stroke-width="0.22">0</text>
<text transform="translate(-2,938) rotate(0.03) scale(1.015,1.13)" font-size="9" fill="#000" stroke="#000" stroke-width="0.22">17 Jul 2020</text>
<rect x="63" y="925" width="1" height="4" fill="#000" shape-rendering="crispEdges"/>
<text transform="translate(62,938) rotate(0.03) scale(1.015,1.13)" font-size="9" fill="#000" stroke="#000" stroke-width="0.22">27 Jul 2020</text>
<rect x="127" y="925" width="1" height="4" fill="#000" shape-rendering="crispEdges"/>
<text transform="translate(126,938) rotate(0.03) scale(1.015,1.13)" font-size="9" fill="#000" stroke="#000" stroke-width="0.22">5 Aug 2020</text>
<rect x="191" y="925" width="1" height="4" fill="#000" shape-rendering="crispEdges"/>
<text transform="translate(190,938) rotate(0.03) scale(1.015,1.13)" font-size="9" fill="#000" stroke="#000" stroke-width="0.22">14 Aug 2020</text>
<rect x="255" y="925" width="1" height="4" fill="#000" shape-rendering="crispEdges"/>
<text transform="translate(254,938) rotate(0.03) scale(1.015,1.13)" font-size="9" fill="#000" stroke="#000" stroke-width="0.22">24 Aug 2020</text>
<rect x="319" y="925" width="1" height="4" fill="#000" shape-rendering="crispEdges"/>
<text transform="translate(318,938) rotate(0.03) scale(1.015,1.13)" font-size="9" fill="#000" stroke="#000" stroke-width="0.22">2 Sep 2020</text>
<rect x="383" y="925" width="1" height="4" fill="#000" shape-rendering="crispEdges"/>
<text transform="translate(382,938) rotate(0.03) scale(1.015,1.13)" font-size="9" fill="#000" stroke="#000" stroke-width="0.22">11 Sep 2020</text>
<rect x="447" y="925" width="1" height="4" fill="#000" shape-rendering="crispEdges"/>
<text transform="translate(446,938) rotate(0.03) scale(1.015,1.13)" font-size="9" fill="#000" stroke="#000" stroke-width="0.22">21 Sep 2020</text>
<rect x="511" y="925" width="1" height="4" fill="#000" shape-rendering="crispEdges"/>
<text transform="translate(510,938) rotate(0.03) scale(1.015,1.13)" font-size="9" fill="#000" stroke="#000" stroke-width="0.22">30 Sep 2020</text>
<rect x="575" y="925" width="1" height="4" fill="#000" shape-rendering="crispEdges"/>
<text transform="translate(574,938) rotate(0.03) scale(1.015,1.13)" font-size="9" fill="#000" stroke="#000" stroke-width="0.22">9 Oct 2020</text>
<rect x="639" y="925" width="1" height="4" fill="#000" shape-rendering="crispEdges"/>
<text transform="translate(638,938) rotate(0.03) scale(1.015,1.13)" font-size="9" fill="#000" stroke="#000" stroke-width="0.22">19 Oct 2020</text>
<rect x="703" y="925" width="1" height="4" fill="#000" shape-rendering="crispEdges"/>
<text transform="translate(702,938) rotate(0.03) scale(1.015,1.13)" font-size="9" fill="#000" stroke="#000" stroke-width="0.22">28 Oct 2020</text>
<rect x="767" y="925" width="1" height="4" fill="#000" shape-rendering="crispEdges"/>
<text transform="translate(766,938) rotate(0.03) scale(1.015,1.13)" font-size="9" fill="#000" stroke="#000" stroke-width="0.22">6 Nov 2020</text>
<rect x="831" y="925" width="1" height="4" fill="#000" shape-rendering="crispEdges"/>
<text transform="translate(830,938) rotate(0.03) scale(1.015,1.13)" font-size="9" fill="#000" stroke="#000" stroke-width="0.22">16 Nov 2020</text>
<rect x="895" y="925" width="1" height="4" fill="#000" shape-rendering="crispEdges"/>
<text transform="translate(894,938) rotate(0.03) scale(1.015,1.13)" font-size="9" fill="#000" stroke="#000" stroke-width="0.22">25 Nov 2020</text>
<rect x="959" y="925" width="1" height="4" fill="#000" shape-rendering="crispEdges"/>
<text transform="translate(958,938) rotate(0.03) scale(1.015,1.13)" font-size="9" fill="#000" stroke="#000" stroke-width="0.22">4 Dec 2020</text>
<rect x="1023" y="925" width="1" height="4" fill="#000" shape-rendering="crispEdges"/>
<text transform="translate(1022,938) rotate(0.03) scale(1.015,1.13)" font-size="9" fill="#000" stroke="#000" stroke-width="0.22">14 Dec 2020</text>
<rect x="1087" y="925" width="1" height="4" fill="#000" shape-rendering="crispEdges"/>
<text transform="translate(1086,938) rotate(0.03) scale(1.015,1.13)" font-size="9" fill="#000" stroke="#000" stroke-width="0.22">23 Dec 2020</text>
<rect x="1151" y="925" width="1" height="4" fill="#000" shape-rendering="crispEdges"/>
<text transform="translate(1150,938) rotate(0.03) scale(1.015,1.13)" font-size="9" fill="#000" stroke="#000" stroke-width="0.22">4 Jan 2021</text>
<rect x="1215" y="925" width="1" height="4" fill="#000" shape-rendering="crispEdges"/>
<text transform="translate(1214,938) rotate(0.03) scale(1.015,1.13)" font-size="9" fill="#000" stroke="#000" stroke-width="0.22">13 Jan 2021</text>
<rect x="1279" y="925" width="1" height="4" fill="#000" shape-rendering="crispEdges"/>
<text transform="translate(1278,938) rotate(0.03) scale(1.015,1.13)" font-size="9" fill="#000" stroke="#000" stroke-width="0.22">22 Jan 2021</text>
<rect x="1343" y="925" width="1" height="4" fill="#000" shape-rendering="crispEdges"/>
<text transform="translate(1342,938) rotate(0.03) scale(1.015,1.13)" font-size="9" fill="#000" stroke="#000" stroke-width="0.22">1 Feb 2021</text>
<rect x="1407" y="925" width="1" height="4" fill="#000" shape-rendering="crispEdges"/>
<text transform="translate(1406,938) rotate(0.03) scale(1.015,1.13)" font-size="9" fill="#000" stroke="#000" stroke-width="0.22">10 Feb 2021</text>
</g>
</svg>
</body></html>
